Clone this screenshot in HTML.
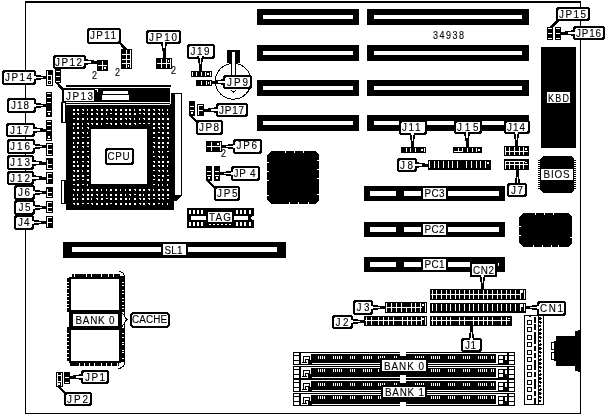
<!DOCTYPE html>
<html><head><meta charset="utf-8"><style>
html,body{margin:0;padding:0;background:#fff;width:608px;height:415px;overflow:hidden}
svg{display:block;filter:grayscale(1)}
text{font-family:"Liberation Sans",sans-serif;stroke:#000;stroke-width:0.12px}
</style></head><body>
<svg width="608" height="415" viewBox="0 0 608 415" shape-rendering="crispEdges">
<rect x="0" y="0" width="608" height="415" fill="#fff"/>
<rect x="25" y="1" width="556" height="2" fill="#000"/>
<rect x="25" y="1" width="1" height="413" fill="#000"/>
<rect x="580" y="1" width="1" height="413" fill="#000"/>
<rect x="25" y="413" width="556" height="1" fill="#000"/>
<rect x="257" y="9" width="102" height="16" fill="#000"/>
<rect x="263" y="15" width="90" height="4" fill="#fff"/>
<rect x="367" y="9" width="162" height="16" fill="#000"/>
<rect x="374" y="15" width="148" height="4" fill="#fff"/>
<rect x="257" y="45" width="102" height="16" fill="#000"/>
<rect x="263" y="51" width="90" height="4" fill="#fff"/>
<rect x="367" y="45" width="162" height="16" fill="#000"/>
<rect x="374" y="51" width="148" height="4" fill="#fff"/>
<rect x="257" y="80" width="102" height="16" fill="#000"/>
<rect x="263" y="86" width="90" height="4" fill="#fff"/>
<rect x="367" y="80" width="162" height="16" fill="#000"/>
<rect x="374" y="86" width="148" height="4" fill="#fff"/>
<rect x="257" y="115" width="102" height="16" fill="#000"/>
<rect x="263" y="121" width="90" height="4" fill="#fff"/>
<rect x="367" y="115" width="162" height="16" fill="#000"/>
<rect x="374" y="121" width="148" height="4" fill="#fff"/>
<text transform="translate(433,39) scale(0.9,1)" font-size="10" fill="#000" text-anchor="start" textLength="34.44" lengthAdjust="spacing">34938</text>
<rect x="364" y="186" width="141" height="15" fill="#000"/>
<rect x="370" y="191" width="26" height="5" fill="#fff"/>
<rect x="404" y="191" width="17" height="5" fill="#fff"/>
<rect x="448" y="191" width="51" height="5" fill="#fff"/>
<rect x="423" y="188" width="23" height="11" fill="#fff"/>
<text transform="translate(424.5,197) scale(0.9,1)" font-size="11" fill="#000" text-anchor="start" textLength="22.22" lengthAdjust="spacing">PC3</text>
<rect x="364" y="222" width="141" height="15" fill="#000"/>
<rect x="370" y="227" width="26" height="5" fill="#fff"/>
<rect x="404" y="227" width="17" height="5" fill="#fff"/>
<rect x="448" y="227" width="51" height="5" fill="#fff"/>
<rect x="423" y="224" width="23" height="11" fill="#fff"/>
<text transform="translate(424.5,233) scale(0.9,1)" font-size="11" fill="#000" text-anchor="start" textLength="22.22" lengthAdjust="spacing">PC2</text>
<rect x="364" y="257" width="141" height="15" fill="#000"/>
<rect x="370" y="262" width="26" height="5" fill="#fff"/>
<rect x="404" y="262" width="17" height="5" fill="#fff"/>
<rect x="448" y="262" width="22" height="5" fill="#fff"/>
<rect x="423" y="259" width="23" height="11" fill="#fff"/>
<text transform="translate(424.5,268) scale(0.9,1)" font-size="11" fill="#000" text-anchor="start" textLength="22.22" lengthAdjust="spacing">PC1</text>
<rect x="63" y="242" width="223" height="16" fill="#000"/>
<rect x="72" y="247" width="89" height="5" fill="#fff"/>
<rect x="188" y="247" width="89" height="5" fill="#fff"/>
<rect x="163" y="244" width="23" height="11" fill="#fff"/>
<text transform="translate(164.5,254) scale(0.9,1)" font-size="11" fill="#000" text-anchor="start" textLength="20.00" lengthAdjust="spacing">SL1</text>
<rect x="541" y="47" width="35" height="101" fill="#000"/>
<rect x="547" y="92" width="23" height="11" fill="#fff"/>
<text transform="translate(548,102) scale(0.9,1)" font-size="10" fill="#000" text-anchor="start" textLength="23.33" lengthAdjust="spacing">KBD</text>
<rect x="66" y="85" width="105" height="2" fill="#000"/>
<rect x="62" y="88" width="108" height="14" fill="#000"/>
<rect x="103" y="91" width="25" height="3" fill="#fff"/>
<rect x="102" y="95" width="27" height="5" fill="#fff"/>
<rect x="96" y="102" width="74" height="1" fill="#fff"/>
<rect x="62" y="103" width="108" height="1" fill="#000"/>
<rect x="66" y="104" width="108" height="106" fill="#000"/>
<rect x="66" y="104" width="104" height="1" fill="#fff"/>
<rect x="61" y="102" width="5" height="21" fill="#000"/>
<rect x="63" y="103" width="2" height="19" fill="#fff"/>
<rect x="61" y="180" width="5" height="24" fill="#000"/>
<rect x="62" y="181" width="2" height="22" fill="#fff"/>
<rect x="171" y="93" width="11" height="103" fill="#000"/>
<rect x="175" y="94" width="6" height="101" fill="#fff"/>
<polygon points="171,196 182,196 176,201 174,201" fill="#000"/>
<rect x="91" y="129" width="56" height="55" fill="#fff"/>
<rect x="73" y="109" width="2" height="2" fill="#fff"/>
<rect x="73" y="113" width="2" height="2" fill="#fff"/>
<rect x="73" y="118" width="2" height="1" fill="#fff"/>
<rect x="73" y="123" width="2" height="2" fill="#fff"/>
<rect x="73" y="127" width="1" height="2" fill="#fff"/>
<rect x="73" y="132" width="2" height="2" fill="#fff"/>
<rect x="73" y="137" width="2" height="2" fill="#fff"/>
<rect x="73" y="142" width="1" height="2" fill="#fff"/>
<rect x="73" y="146" width="2" height="2" fill="#fff"/>
<rect x="73" y="151" width="2" height="2" fill="#fff"/>
<rect x="73" y="156" width="2" height="2" fill="#fff"/>
<rect x="73" y="161" width="2" height="2" fill="#fff"/>
<rect x="73" y="165" width="2" height="2" fill="#fff"/>
<rect x="73" y="170" width="2" height="1" fill="#fff"/>
<rect x="74" y="171" width="1" height="1" fill="#fff"/>
<rect x="73" y="175" width="2" height="2" fill="#fff"/>
<rect x="73" y="179" width="2" height="2" fill="#fff"/>
<rect x="73" y="184" width="2" height="1" fill="#fff"/>
<rect x="73" y="189" width="2" height="1" fill="#fff"/>
<rect x="74" y="190" width="1" height="1" fill="#fff"/>
<rect x="73" y="194" width="1" height="2" fill="#fff"/>
<rect x="73" y="198" width="2" height="2" fill="#fff"/>
<rect x="73" y="203" width="2" height="1" fill="#fff"/>
<rect x="74" y="204" width="1" height="1" fill="#fff"/>
<rect x="77" y="109" width="2" height="2" fill="#fff"/>
<rect x="77" y="113" width="2" height="1" fill="#fff"/>
<rect x="78" y="114" width="1" height="1" fill="#fff"/>
<rect x="77" y="118" width="2" height="2" fill="#fff"/>
<rect x="77" y="123" width="2" height="2" fill="#fff"/>
<rect x="77" y="127" width="2" height="2" fill="#fff"/>
<rect x="77" y="132" width="2" height="2" fill="#fff"/>
<rect x="77" y="137" width="2" height="1" fill="#fff"/>
<rect x="78" y="138" width="1" height="1" fill="#fff"/>
<rect x="77" y="142" width="2" height="2" fill="#fff"/>
<rect x="77" y="146" width="1" height="2" fill="#fff"/>
<rect x="77" y="151" width="2" height="1" fill="#fff"/>
<rect x="77" y="156" width="2" height="2" fill="#fff"/>
<rect x="77" y="161" width="1" height="2" fill="#fff"/>
<rect x="77" y="165" width="2" height="2" fill="#fff"/>
<rect x="77" y="170" width="2" height="2" fill="#fff"/>
<rect x="77" y="175" width="2" height="2" fill="#fff"/>
<rect x="77" y="179" width="2" height="1" fill="#fff"/>
<rect x="77" y="184" width="2" height="2" fill="#fff"/>
<rect x="77" y="189" width="2" height="2" fill="#fff"/>
<rect x="77" y="194" width="1" height="2" fill="#fff"/>
<rect x="77" y="198" width="1" height="2" fill="#fff"/>
<rect x="77" y="203" width="2" height="2" fill="#fff"/>
<rect x="82" y="109" width="2" height="1" fill="#fff"/>
<rect x="83" y="110" width="1" height="1" fill="#fff"/>
<rect x="82" y="113" width="2" height="1" fill="#fff"/>
<rect x="82" y="118" width="2" height="2" fill="#fff"/>
<rect x="82" y="123" width="1" height="2" fill="#fff"/>
<rect x="82" y="127" width="1" height="2" fill="#fff"/>
<rect x="82" y="132" width="2" height="1" fill="#fff"/>
<rect x="83" y="133" width="1" height="1" fill="#fff"/>
<rect x="82" y="137" width="2" height="1" fill="#fff"/>
<rect x="82" y="142" width="2" height="2" fill="#fff"/>
<rect x="82" y="146" width="2" height="1" fill="#fff"/>
<rect x="83" y="147" width="1" height="1" fill="#fff"/>
<rect x="82" y="151" width="2" height="2" fill="#fff"/>
<rect x="82" y="156" width="2" height="2" fill="#fff"/>
<rect x="82" y="161" width="2" height="1" fill="#fff"/>
<rect x="82" y="165" width="2" height="2" fill="#fff"/>
<rect x="82" y="170" width="1" height="2" fill="#fff"/>
<rect x="82" y="175" width="2" height="2" fill="#fff"/>
<rect x="82" y="179" width="2" height="1" fill="#fff"/>
<rect x="82" y="184" width="2" height="1" fill="#fff"/>
<rect x="82" y="189" width="1" height="2" fill="#fff"/>
<rect x="82" y="194" width="2" height="1" fill="#fff"/>
<rect x="83" y="195" width="1" height="1" fill="#fff"/>
<rect x="82" y="198" width="2" height="2" fill="#fff"/>
<rect x="82" y="203" width="2" height="1" fill="#fff"/>
<rect x="87" y="109" width="1" height="2" fill="#fff"/>
<rect x="87" y="113" width="1" height="2" fill="#fff"/>
<rect x="87" y="118" width="1" height="2" fill="#fff"/>
<rect x="87" y="123" width="2" height="1" fill="#fff"/>
<rect x="88" y="124" width="1" height="1" fill="#fff"/>
<rect x="87" y="127" width="2" height="1" fill="#fff"/>
<rect x="88" y="128" width="1" height="1" fill="#fff"/>
<rect x="87" y="132" width="1" height="2" fill="#fff"/>
<rect x="87" y="137" width="2" height="1" fill="#fff"/>
<rect x="87" y="142" width="2" height="2" fill="#fff"/>
<rect x="87" y="146" width="2" height="1" fill="#fff"/>
<rect x="87" y="151" width="2" height="1" fill="#fff"/>
<rect x="87" y="156" width="2" height="1" fill="#fff"/>
<rect x="88" y="157" width="1" height="1" fill="#fff"/>
<rect x="87" y="161" width="2" height="1" fill="#fff"/>
<rect x="88" y="162" width="1" height="1" fill="#fff"/>
<rect x="87" y="165" width="2" height="2" fill="#fff"/>
<rect x="87" y="170" width="2" height="2" fill="#fff"/>
<rect x="87" y="175" width="2" height="1" fill="#fff"/>
<rect x="87" y="179" width="2" height="2" fill="#fff"/>
<rect x="87" y="184" width="1" height="2" fill="#fff"/>
<rect x="87" y="189" width="2" height="2" fill="#fff"/>
<rect x="87" y="194" width="2" height="2" fill="#fff"/>
<rect x="87" y="198" width="2" height="2" fill="#fff"/>
<rect x="87" y="203" width="2" height="1" fill="#fff"/>
<rect x="91" y="109" width="2" height="2" fill="#fff"/>
<rect x="91" y="113" width="2" height="2" fill="#fff"/>
<rect x="91" y="118" width="2" height="2" fill="#fff"/>
<rect x="91" y="123" width="2" height="1" fill="#fff"/>
<rect x="92" y="124" width="1" height="1" fill="#fff"/>
<rect x="91" y="189" width="2" height="2" fill="#fff"/>
<rect x="91" y="194" width="2" height="2" fill="#fff"/>
<rect x="91" y="198" width="1" height="2" fill="#fff"/>
<rect x="91" y="203" width="2" height="1" fill="#fff"/>
<rect x="92" y="204" width="1" height="1" fill="#fff"/>
<rect x="96" y="109" width="2" height="1" fill="#fff"/>
<rect x="97" y="110" width="1" height="1" fill="#fff"/>
<rect x="96" y="113" width="2" height="1" fill="#fff"/>
<rect x="97" y="114" width="1" height="1" fill="#fff"/>
<rect x="96" y="118" width="2" height="2" fill="#fff"/>
<rect x="96" y="123" width="2" height="2" fill="#fff"/>
<rect x="96" y="189" width="2" height="2" fill="#fff"/>
<rect x="96" y="194" width="2" height="1" fill="#fff"/>
<rect x="97" y="195" width="1" height="1" fill="#fff"/>
<rect x="96" y="198" width="2" height="1" fill="#fff"/>
<rect x="97" y="199" width="1" height="1" fill="#fff"/>
<rect x="96" y="203" width="2" height="2" fill="#fff"/>
<rect x="101" y="109" width="2" height="2" fill="#fff"/>
<rect x="101" y="113" width="2" height="2" fill="#fff"/>
<rect x="101" y="118" width="2" height="2" fill="#fff"/>
<rect x="101" y="123" width="1" height="2" fill="#fff"/>
<rect x="101" y="189" width="1" height="2" fill="#fff"/>
<rect x="101" y="194" width="2" height="2" fill="#fff"/>
<rect x="101" y="198" width="2" height="2" fill="#fff"/>
<rect x="101" y="203" width="2" height="2" fill="#fff"/>
<rect x="106" y="109" width="2" height="2" fill="#fff"/>
<rect x="106" y="113" width="1" height="2" fill="#fff"/>
<rect x="106" y="118" width="2" height="1" fill="#fff"/>
<rect x="107" y="119" width="1" height="1" fill="#fff"/>
<rect x="106" y="123" width="2" height="1" fill="#fff"/>
<rect x="106" y="189" width="1" height="2" fill="#fff"/>
<rect x="106" y="194" width="1" height="2" fill="#fff"/>
<rect x="106" y="198" width="2" height="1" fill="#fff"/>
<rect x="106" y="203" width="2" height="2" fill="#fff"/>
<rect x="110" y="109" width="2" height="1" fill="#fff"/>
<rect x="111" y="110" width="1" height="1" fill="#fff"/>
<rect x="110" y="113" width="2" height="1" fill="#fff"/>
<rect x="110" y="118" width="2" height="1" fill="#fff"/>
<rect x="111" y="119" width="1" height="1" fill="#fff"/>
<rect x="110" y="123" width="2" height="1" fill="#fff"/>
<rect x="111" y="124" width="1" height="1" fill="#fff"/>
<rect x="110" y="189" width="2" height="2" fill="#fff"/>
<rect x="110" y="194" width="2" height="2" fill="#fff"/>
<rect x="110" y="198" width="2" height="2" fill="#fff"/>
<rect x="110" y="203" width="2" height="1" fill="#fff"/>
<rect x="115" y="109" width="2" height="2" fill="#fff"/>
<rect x="115" y="113" width="2" height="2" fill="#fff"/>
<rect x="115" y="118" width="2" height="2" fill="#fff"/>
<rect x="115" y="123" width="2" height="2" fill="#fff"/>
<rect x="115" y="189" width="2" height="2" fill="#fff"/>
<rect x="115" y="194" width="2" height="2" fill="#fff"/>
<rect x="115" y="198" width="2" height="2" fill="#fff"/>
<rect x="115" y="203" width="2" height="2" fill="#fff"/>
<rect x="120" y="109" width="2" height="2" fill="#fff"/>
<rect x="120" y="113" width="2" height="2" fill="#fff"/>
<rect x="120" y="118" width="2" height="2" fill="#fff"/>
<rect x="120" y="123" width="2" height="1" fill="#fff"/>
<rect x="121" y="124" width="1" height="1" fill="#fff"/>
<rect x="120" y="189" width="1" height="2" fill="#fff"/>
<rect x="120" y="194" width="2" height="2" fill="#fff"/>
<rect x="120" y="198" width="2" height="2" fill="#fff"/>
<rect x="120" y="203" width="2" height="2" fill="#fff"/>
<rect x="125" y="109" width="2" height="2" fill="#fff"/>
<rect x="125" y="113" width="2" height="2" fill="#fff"/>
<rect x="125" y="118" width="2" height="1" fill="#fff"/>
<rect x="126" y="119" width="1" height="1" fill="#fff"/>
<rect x="125" y="123" width="2" height="1" fill="#fff"/>
<rect x="126" y="124" width="1" height="1" fill="#fff"/>
<rect x="125" y="189" width="1" height="2" fill="#fff"/>
<rect x="125" y="194" width="1" height="2" fill="#fff"/>
<rect x="125" y="198" width="2" height="2" fill="#fff"/>
<rect x="125" y="203" width="2" height="2" fill="#fff"/>
<rect x="129" y="109" width="2" height="2" fill="#fff"/>
<rect x="129" y="113" width="2" height="2" fill="#fff"/>
<rect x="129" y="118" width="2" height="1" fill="#fff"/>
<rect x="130" y="119" width="1" height="1" fill="#fff"/>
<rect x="129" y="123" width="2" height="2" fill="#fff"/>
<rect x="129" y="189" width="2" height="2" fill="#fff"/>
<rect x="129" y="194" width="2" height="1" fill="#fff"/>
<rect x="130" y="195" width="1" height="1" fill="#fff"/>
<rect x="129" y="198" width="1" height="2" fill="#fff"/>
<rect x="129" y="203" width="2" height="2" fill="#fff"/>
<rect x="134" y="109" width="1" height="2" fill="#fff"/>
<rect x="134" y="113" width="2" height="2" fill="#fff"/>
<rect x="134" y="118" width="1" height="2" fill="#fff"/>
<rect x="134" y="123" width="2" height="1" fill="#fff"/>
<rect x="135" y="124" width="1" height="1" fill="#fff"/>
<rect x="134" y="189" width="2" height="1" fill="#fff"/>
<rect x="135" y="190" width="1" height="1" fill="#fff"/>
<rect x="134" y="194" width="2" height="1" fill="#fff"/>
<rect x="134" y="198" width="2" height="2" fill="#fff"/>
<rect x="134" y="203" width="2" height="2" fill="#fff"/>
<rect x="139" y="109" width="2" height="2" fill="#fff"/>
<rect x="139" y="113" width="2" height="1" fill="#fff"/>
<rect x="139" y="118" width="1" height="2" fill="#fff"/>
<rect x="139" y="123" width="2" height="1" fill="#fff"/>
<rect x="139" y="189" width="2" height="2" fill="#fff"/>
<rect x="139" y="194" width="2" height="2" fill="#fff"/>
<rect x="139" y="198" width="2" height="1" fill="#fff"/>
<rect x="140" y="199" width="1" height="1" fill="#fff"/>
<rect x="139" y="203" width="2" height="1" fill="#fff"/>
<rect x="140" y="204" width="1" height="1" fill="#fff"/>
<rect x="143" y="109" width="2" height="1" fill="#fff"/>
<rect x="144" y="110" width="1" height="1" fill="#fff"/>
<rect x="143" y="113" width="2" height="1" fill="#fff"/>
<rect x="144" y="114" width="1" height="1" fill="#fff"/>
<rect x="143" y="118" width="2" height="1" fill="#fff"/>
<rect x="144" y="119" width="1" height="1" fill="#fff"/>
<rect x="143" y="123" width="2" height="1" fill="#fff"/>
<rect x="143" y="189" width="2" height="2" fill="#fff"/>
<rect x="143" y="194" width="1" height="2" fill="#fff"/>
<rect x="143" y="198" width="2" height="2" fill="#fff"/>
<rect x="143" y="203" width="2" height="2" fill="#fff"/>
<rect x="148" y="109" width="2" height="2" fill="#fff"/>
<rect x="148" y="113" width="2" height="2" fill="#fff"/>
<rect x="148" y="118" width="2" height="2" fill="#fff"/>
<rect x="148" y="123" width="2" height="1" fill="#fff"/>
<rect x="148" y="189" width="2" height="1" fill="#fff"/>
<rect x="149" y="190" width="1" height="1" fill="#fff"/>
<rect x="148" y="194" width="2" height="2" fill="#fff"/>
<rect x="148" y="198" width="2" height="1" fill="#fff"/>
<rect x="149" y="199" width="1" height="1" fill="#fff"/>
<rect x="148" y="203" width="2" height="1" fill="#fff"/>
<rect x="149" y="204" width="1" height="1" fill="#fff"/>
<rect x="153" y="109" width="2" height="1" fill="#fff"/>
<rect x="154" y="110" width="1" height="1" fill="#fff"/>
<rect x="153" y="113" width="2" height="2" fill="#fff"/>
<rect x="153" y="118" width="2" height="2" fill="#fff"/>
<rect x="153" y="123" width="2" height="2" fill="#fff"/>
<rect x="153" y="127" width="2" height="2" fill="#fff"/>
<rect x="153" y="132" width="2" height="2" fill="#fff"/>
<rect x="153" y="137" width="2" height="1" fill="#fff"/>
<rect x="153" y="142" width="2" height="1" fill="#fff"/>
<rect x="154" y="143" width="1" height="1" fill="#fff"/>
<rect x="153" y="146" width="2" height="1" fill="#fff"/>
<rect x="154" y="147" width="1" height="1" fill="#fff"/>
<rect x="153" y="151" width="1" height="2" fill="#fff"/>
<rect x="153" y="156" width="2" height="1" fill="#fff"/>
<rect x="153" y="161" width="2" height="1" fill="#fff"/>
<rect x="154" y="162" width="1" height="1" fill="#fff"/>
<rect x="153" y="165" width="2" height="2" fill="#fff"/>
<rect x="153" y="170" width="2" height="1" fill="#fff"/>
<rect x="153" y="175" width="2" height="1" fill="#fff"/>
<rect x="154" y="176" width="1" height="1" fill="#fff"/>
<rect x="153" y="179" width="2" height="1" fill="#fff"/>
<rect x="153" y="184" width="2" height="1" fill="#fff"/>
<rect x="153" y="189" width="1" height="2" fill="#fff"/>
<rect x="153" y="194" width="2" height="2" fill="#fff"/>
<rect x="153" y="198" width="2" height="1" fill="#fff"/>
<rect x="153" y="203" width="2" height="2" fill="#fff"/>
<rect x="158" y="109" width="2" height="1" fill="#fff"/>
<rect x="159" y="110" width="1" height="1" fill="#fff"/>
<rect x="158" y="113" width="2" height="1" fill="#fff"/>
<rect x="159" y="114" width="1" height="1" fill="#fff"/>
<rect x="158" y="118" width="2" height="2" fill="#fff"/>
<rect x="158" y="123" width="2" height="2" fill="#fff"/>
<rect x="158" y="127" width="2" height="1" fill="#fff"/>
<rect x="159" y="128" width="1" height="1" fill="#fff"/>
<rect x="158" y="132" width="2" height="1" fill="#fff"/>
<rect x="158" y="137" width="2" height="2" fill="#fff"/>
<rect x="158" y="142" width="2" height="2" fill="#fff"/>
<rect x="158" y="146" width="2" height="2" fill="#fff"/>
<rect x="158" y="151" width="2" height="1" fill="#fff"/>
<rect x="159" y="152" width="1" height="1" fill="#fff"/>
<rect x="158" y="156" width="2" height="1" fill="#fff"/>
<rect x="159" y="157" width="1" height="1" fill="#fff"/>
<rect x="158" y="161" width="2" height="2" fill="#fff"/>
<rect x="158" y="165" width="2" height="1" fill="#fff"/>
<rect x="159" y="166" width="1" height="1" fill="#fff"/>
<rect x="158" y="170" width="2" height="1" fill="#fff"/>
<rect x="159" y="171" width="1" height="1" fill="#fff"/>
<rect x="158" y="175" width="2" height="1" fill="#fff"/>
<rect x="158" y="179" width="2" height="2" fill="#fff"/>
<rect x="158" y="184" width="1" height="2" fill="#fff"/>
<rect x="158" y="189" width="2" height="2" fill="#fff"/>
<rect x="158" y="194" width="2" height="2" fill="#fff"/>
<rect x="158" y="198" width="2" height="1" fill="#fff"/>
<rect x="159" y="199" width="1" height="1" fill="#fff"/>
<rect x="158" y="203" width="2" height="1" fill="#fff"/>
<rect x="162" y="109" width="1" height="2" fill="#fff"/>
<rect x="162" y="113" width="2" height="1" fill="#fff"/>
<rect x="163" y="114" width="1" height="1" fill="#fff"/>
<rect x="162" y="118" width="2" height="2" fill="#fff"/>
<rect x="162" y="123" width="2" height="1" fill="#fff"/>
<rect x="163" y="124" width="1" height="1" fill="#fff"/>
<rect x="162" y="127" width="2" height="1" fill="#fff"/>
<rect x="163" y="128" width="1" height="1" fill="#fff"/>
<rect x="162" y="132" width="2" height="2" fill="#fff"/>
<rect x="162" y="137" width="2" height="2" fill="#fff"/>
<rect x="162" y="142" width="2" height="2" fill="#fff"/>
<rect x="162" y="146" width="2" height="2" fill="#fff"/>
<rect x="162" y="151" width="1" height="2" fill="#fff"/>
<rect x="162" y="156" width="2" height="2" fill="#fff"/>
<rect x="162" y="161" width="2" height="2" fill="#fff"/>
<rect x="162" y="165" width="2" height="2" fill="#fff"/>
<rect x="162" y="170" width="2" height="1" fill="#fff"/>
<rect x="163" y="171" width="1" height="1" fill="#fff"/>
<rect x="162" y="175" width="2" height="2" fill="#fff"/>
<rect x="162" y="179" width="1" height="2" fill="#fff"/>
<rect x="162" y="184" width="1" height="2" fill="#fff"/>
<rect x="162" y="189" width="2" height="1" fill="#fff"/>
<rect x="163" y="190" width="1" height="1" fill="#fff"/>
<rect x="162" y="194" width="2" height="2" fill="#fff"/>
<rect x="162" y="198" width="2" height="1" fill="#fff"/>
<rect x="163" y="199" width="1" height="1" fill="#fff"/>
<rect x="162" y="203" width="1" height="2" fill="#fff"/>
<rect x="167" y="109" width="1" height="2" fill="#fff"/>
<rect x="167" y="113" width="1" height="2" fill="#fff"/>
<rect x="167" y="118" width="2" height="2" fill="#fff"/>
<rect x="167" y="123" width="2" height="2" fill="#fff"/>
<rect x="167" y="127" width="2" height="2" fill="#fff"/>
<rect x="167" y="132" width="2" height="2" fill="#fff"/>
<rect x="167" y="137" width="2" height="1" fill="#fff"/>
<rect x="168" y="138" width="1" height="1" fill="#fff"/>
<rect x="167" y="142" width="2" height="2" fill="#fff"/>
<rect x="167" y="146" width="1" height="2" fill="#fff"/>
<rect x="167" y="151" width="2" height="1" fill="#fff"/>
<rect x="167" y="156" width="1" height="2" fill="#fff"/>
<rect x="167" y="161" width="2" height="2" fill="#fff"/>
<rect x="167" y="165" width="1" height="2" fill="#fff"/>
<rect x="167" y="170" width="1" height="2" fill="#fff"/>
<rect x="167" y="175" width="2" height="1" fill="#fff"/>
<rect x="167" y="179" width="2" height="2" fill="#fff"/>
<rect x="167" y="184" width="1" height="2" fill="#fff"/>
<rect x="167" y="189" width="2" height="2" fill="#fff"/>
<rect x="167" y="194" width="2" height="2" fill="#fff"/>
<rect x="167" y="198" width="2" height="1" fill="#fff"/>
<rect x="167" y="203" width="1" height="2" fill="#fff"/>
<rect x="105" y="148" width="29" height="17" rx="3" ry="3" fill="#000"/>
<rect x="107" y="150" width="25" height="13" rx="2" ry="2" fill="#fff"/>
<text transform="translate(107.6,159.8) scale(0.9,1)" font-size="11" fill="#000" text-anchor="start" textLength="24.44" lengthAdjust="spacing">CPU</text>
<rect x="64" y="90" width="30" height="11" fill="#fff"/>
<text transform="translate(66,99.5) scale(0.9,1)" font-size="11" fill="#000" text-anchor="start" textLength="30.00" lengthAdjust="spacing">JP13</text>
<rect x="95" y="89" width="3" height="1" fill="#fff"/>
<rect x="97" y="89" width="1" height="3" fill="#fff"/>
<polygon points="55,82 58,82 64,89 62,91" fill="#000"/>
<polygon points="271,151 315,151 319,155 319,200 315,204 271,204 267,200 267,155" fill="#000"/>
<rect x="285" y="151" width="1" height="2" fill="#fff"/>
<rect x="294" y="151" width="1" height="2" fill="#fff"/>
<rect x="303" y="151" width="1" height="2" fill="#fff"/>
<rect x="289" y="202" width="1" height="2" fill="#fff"/>
<rect x="298" y="202" width="1" height="2" fill="#fff"/>
<rect x="308" y="202" width="1" height="2" fill="#fff"/>
<rect x="267" y="162" width="2" height="1" fill="#fff"/>
<rect x="267" y="171" width="2" height="1" fill="#fff"/>
<rect x="267" y="180" width="2" height="1" fill="#fff"/>
<rect x="267" y="195" width="2" height="1" fill="#fff"/>
<rect x="317" y="160" width="2" height="1" fill="#fff"/>
<rect x="317" y="169" width="2" height="1" fill="#fff"/>
<rect x="317" y="178" width="2" height="1" fill="#fff"/>
<rect x="317" y="194" width="2" height="1" fill="#fff"/>
<polygon points="523,213 568,213 572,217 572,243 568,247 523,247 519,243 519,217" fill="#000"/>
<rect x="535" y="213" width="1" height="2" fill="#fff"/>
<rect x="544" y="213" width="1" height="2" fill="#fff"/>
<rect x="553" y="213" width="1" height="2" fill="#fff"/>
<rect x="533" y="245" width="1" height="2" fill="#fff"/>
<rect x="542" y="245" width="1" height="2" fill="#fff"/>
<rect x="551" y="245" width="1" height="2" fill="#fff"/>
<rect x="558" y="245" width="1" height="2" fill="#fff"/>
<rect x="519" y="226" width="2" height="1" fill="#fff"/>
<rect x="519" y="235" width="2" height="1" fill="#fff"/>
<rect x="570" y="237" width="2" height="1" fill="#fff"/>
<polygon points="543,156 571,156 574,159 574,190 571,193 543,193 540,190 540,159" fill="#000"/>
<rect x="538" y="160" width="3" height="1" fill="#000"/>
<rect x="573" y="160" width="3" height="1" fill="#000"/>
<rect x="538" y="162" width="3" height="1" fill="#000"/>
<rect x="573" y="162" width="3" height="1" fill="#000"/>
<rect x="538" y="164" width="3" height="1" fill="#000"/>
<rect x="573" y="164" width="3" height="1" fill="#000"/>
<rect x="538" y="166" width="3" height="1" fill="#000"/>
<rect x="573" y="166" width="3" height="1" fill="#000"/>
<rect x="538" y="168" width="3" height="1" fill="#000"/>
<rect x="573" y="168" width="3" height="1" fill="#000"/>
<rect x="538" y="170" width="3" height="1" fill="#000"/>
<rect x="573" y="170" width="3" height="1" fill="#000"/>
<rect x="538" y="172" width="3" height="1" fill="#000"/>
<rect x="573" y="172" width="3" height="1" fill="#000"/>
<rect x="538" y="174" width="3" height="1" fill="#000"/>
<rect x="573" y="174" width="3" height="1" fill="#000"/>
<rect x="538" y="176" width="3" height="1" fill="#000"/>
<rect x="573" y="176" width="3" height="1" fill="#000"/>
<rect x="538" y="178" width="3" height="1" fill="#000"/>
<rect x="573" y="178" width="3" height="1" fill="#000"/>
<rect x="538" y="180" width="3" height="1" fill="#000"/>
<rect x="573" y="180" width="3" height="1" fill="#000"/>
<rect x="538" y="182" width="3" height="1" fill="#000"/>
<rect x="573" y="182" width="3" height="1" fill="#000"/>
<rect x="538" y="184" width="3" height="1" fill="#000"/>
<rect x="573" y="184" width="3" height="1" fill="#000"/>
<rect x="538" y="186" width="3" height="1" fill="#000"/>
<rect x="573" y="186" width="3" height="1" fill="#000"/>
<rect x="538" y="188" width="3" height="1" fill="#000"/>
<rect x="573" y="188" width="3" height="1" fill="#000"/>
<rect x="541" y="169" width="32" height="11" fill="#fff"/>
<text transform="translate(543.5,178) scale(0.9,1)" font-size="11" fill="#000" text-anchor="start" textLength="28.89" lengthAdjust="spacing">BIOS</text>
<rect x="187" y="208" width="67" height="20" fill="#000"/>
<rect x="189" y="210" width="2" height="4" fill="#fff"/>
<rect x="189" y="222" width="2" height="4" fill="#fff"/>
<rect x="193" y="210" width="2" height="4" fill="#fff"/>
<rect x="193" y="222" width="2" height="4" fill="#fff"/>
<rect x="197" y="210" width="2" height="4" fill="#fff"/>
<rect x="197" y="222" width="2" height="4" fill="#fff"/>
<rect x="201" y="210" width="2" height="4" fill="#fff"/>
<rect x="201" y="222" width="2" height="4" fill="#fff"/>
<rect x="236" y="210" width="2" height="4" fill="#fff"/>
<rect x="236" y="222" width="2" height="4" fill="#fff"/>
<rect x="240" y="210" width="2" height="4" fill="#fff"/>
<rect x="240" y="222" width="2" height="4" fill="#fff"/>
<rect x="244" y="210" width="2" height="4" fill="#fff"/>
<rect x="244" y="222" width="2" height="4" fill="#fff"/>
<rect x="249" y="210" width="2" height="4" fill="#fff"/>
<rect x="249" y="222" width="2" height="4" fill="#fff"/>
<rect x="191" y="216" width="15" height="4" fill="#fff"/>
<rect x="234" y="216" width="14" height="4" fill="#fff"/>
<rect x="208" y="212" width="24" height="10" fill="#fff"/>
<text transform="translate(209,221) scale(0.9,1)" font-size="11" fill="#000" text-anchor="start" textLength="24.44" lengthAdjust="spacing">TAG</text>
<rect x="209" y="224" width="2" height="1" fill="#fff"/>
<rect x="213" y="224" width="2" height="1" fill="#fff"/>
<rect x="217" y="224" width="2" height="1" fill="#fff"/>
<rect x="221" y="224" width="2" height="1" fill="#fff"/>
<rect x="225" y="224" width="2" height="1" fill="#fff"/>
<rect x="229" y="224" width="2" height="1" fill="#fff"/>
<rect x="252" y="216" width="2" height="4" fill="#fff"/>
<rect x="251" y="217" width="1" height="2" fill="#fff"/>
<rect x="2" y="70" width="34" height="15" rx="3" ry="3" fill="#000"/>
<rect x="4" y="72" width="30" height="11" rx="2" ry="2" fill="#fff"/>
<text transform="translate(5,81.0) scale(0.9,1)" font-size="11" fill="#000" text-anchor="start" textLength="30.00" lengthAdjust="spacing">JP14</text>
<polygon points="34,74.0 38,75.0 44,76.0 46,76.0 46,79.0 44,79.0 38,80.0 34,81.0" fill="#000"/>
<polygon points="34,76.3 43,77.2 43,77.8 34,78.7" fill="#fff"/>
<rect x="46" y="70" width="7" height="16" fill="#000"/>
<rect x="47" y="71" width="1" height="14" fill="#fff"/>
<rect x="48" y="75" width="4" height="1" fill="#fff"/>
<rect x="51" y="75" width="1" height="10" fill="#fff"/>
<rect x="48" y="80" width="3" height="1" fill="#fff"/>
<rect x="49" y="82" width="1" height="1" fill="#fff"/>
<rect x="48" y="84" width="4" height="1" fill="#fff"/>
<rect x="7" y="98" width="29" height="15" rx="3" ry="3" fill="#000"/>
<rect x="9" y="100" width="25" height="11" rx="2" ry="2" fill="#fff"/>
<text transform="translate(11,109.0) scale(0.9,1)" font-size="11" fill="#000" text-anchor="start" textLength="20.00" lengthAdjust="spacing">J18</text>
<polygon points="34,102.0 38,103.0 44,104.0 46,104.0 46,107.0 44,107.0 38,108.0 34,109.0" fill="#000"/>
<polygon points="34,104.3 43,105.2 43,105.8 34,106.7" fill="#fff"/>
<rect x="46" y="92" width="6" height="25" fill="#000"/>
<rect x="47" y="93" width="4" height="1" fill="#fff"/>
<rect x="47" y="97" width="4" height="1" fill="#fff"/>
<rect x="47" y="102" width="4" height="1" fill="#fff"/>
<rect x="47" y="111" width="4" height="1" fill="#fff"/>
<rect x="48" y="113" width="2" height="2" fill="#fff"/>
<rect x="6" y="123" width="29" height="14" rx="3" ry="3" fill="#000"/>
<rect x="8" y="125" width="25" height="10" rx="2" ry="2" fill="#fff"/>
<text transform="translate(10,133.5) scale(0.9,1)" font-size="11" fill="#000" text-anchor="start" textLength="21.11" lengthAdjust="spacing">J17</text>
<polygon points="33,126.5 37,127.5 43,128.5 46,128.5 46,131.5 43,131.5 37,132.5 33,133.5" fill="#000"/>
<polygon points="33,128.8 42,129.7 42,130.3 33,131.2" fill="#fff"/>
<rect x="46" y="120" width="6" height="21" fill="#000"/>
<rect x="47" y="121" width="4" height="1" fill="#fff"/>
<rect x="47" y="125" width="4" height="1" fill="#fff"/>
<rect x="47" y="130" width="4" height="1" fill="#fff"/>
<rect x="47" y="139" width="4" height="1" fill="#fff"/>
<rect x="48" y="136" width="2" height="2" fill="#fff"/>
<rect x="7" y="139" width="28" height="15" rx="3" ry="3" fill="#000"/>
<rect x="9" y="141" width="24" height="11" rx="2" ry="2" fill="#fff"/>
<text transform="translate(10,150.0) scale(0.9,1)" font-size="11" fill="#000" text-anchor="start" textLength="22.22" lengthAdjust="spacing">J16</text>
<polygon points="33,143.0 37,144.0 43,145.0 46,145.0 46,148.0 43,148.0 37,149.0 33,150.0" fill="#000"/>
<polygon points="33,145.3 42,146.2 42,146.8 33,147.7" fill="#fff"/>
<rect x="46" y="143" width="7" height="13" fill="#000"/>
<rect x="47" y="144" width="1" height="11" fill="#fff"/>
<rect x="47" y="144" width="5" height="1" fill="#fff"/>
<rect x="47" y="149" width="5" height="1" fill="#fff"/>
<rect x="47" y="154" width="5" height="1" fill="#fff"/>
<rect x="7" y="155" width="27" height="15" rx="3" ry="3" fill="#000"/>
<rect x="9" y="157" width="23" height="11" rx="2" ry="2" fill="#fff"/>
<text transform="translate(10,166.0) scale(0.9,1)" font-size="11" fill="#000" text-anchor="start" textLength="22.22" lengthAdjust="spacing">J13</text>
<polygon points="32,159.5 36,160.5 42,161.5 46,161.5 46,164.5 42,164.5 36,165.5 32,166.5" fill="#000"/>
<polygon points="32,161.8 41,162.7 41,163.3 32,164.2" fill="#fff"/>
<rect x="46" y="158" width="7" height="12" fill="#000"/>
<rect x="47" y="160" width="1" height="9" fill="#fff"/>
<rect x="47" y="164" width="5" height="1" fill="#fff"/>
<rect x="47" y="168" width="5" height="1" fill="#fff"/>
<rect x="7" y="171" width="27" height="14" rx="3" ry="3" fill="#000"/>
<rect x="9" y="173" width="23" height="10" rx="2" ry="2" fill="#fff"/>
<text transform="translate(10,181.5) scale(0.9,1)" font-size="11" fill="#000" text-anchor="start" textLength="22.22" lengthAdjust="spacing">J12</text>
<polygon points="32,174.5 36,175.5 42,176.5 46,176.5 46,179.5 42,179.5 36,180.5 32,181.5" fill="#000"/>
<polygon points="32,176.8 41,177.7 41,178.3 32,179.2" fill="#fff"/>
<rect x="46" y="172" width="7" height="12" fill="#000"/>
<rect x="47" y="173" width="1" height="10" fill="#fff"/>
<rect x="47" y="173" width="5" height="1" fill="#fff"/>
<rect x="47" y="178" width="5" height="1" fill="#fff"/>
<rect x="14" y="185" width="21" height="15" rx="3" ry="3" fill="#000"/>
<rect x="16" y="187" width="17" height="11" rx="2" ry="2" fill="#fff"/>
<text transform="translate(18,196.0) scale(0.9,1)" font-size="11" fill="#000" text-anchor="start" textLength="13.33" lengthAdjust="spacing">J6</text>
<polygon points="33,189.0 37,190.0 43,191.0 46,191.0 46,194.0 43,194.0 37,195.0 33,196.0" fill="#000"/>
<polygon points="33,191.3 42,192.2 42,192.8 33,193.7" fill="#fff"/>
<rect x="46" y="187" width="7" height="11" fill="#000"/>
<rect x="47" y="189" width="1" height="8" fill="#fff"/>
<rect x="47" y="192" width="5" height="1" fill="#fff"/>
<rect x="47" y="196" width="5" height="1" fill="#fff"/>
<rect x="14" y="200" width="21" height="15" rx="3" ry="3" fill="#000"/>
<rect x="16" y="202" width="17" height="11" rx="2" ry="2" fill="#fff"/>
<text transform="translate(18.5,211.0) scale(0.9,1)" font-size="11" fill="#000" text-anchor="start" textLength="13.33" lengthAdjust="spacing">J5</text>
<polygon points="33,204.0 37,205.0 43,206.0 46,206.0 46,209.0 43,209.0 37,210.0 33,211.0" fill="#000"/>
<polygon points="33,206.3 42,207.2 42,207.8 33,208.7" fill="#fff"/>
<rect x="46" y="201" width="7" height="12" fill="#000"/>
<rect x="47" y="202" width="1" height="10" fill="#fff"/>
<rect x="47" y="202" width="5" height="1" fill="#fff"/>
<rect x="47" y="207" width="5" height="1" fill="#fff"/>
<rect x="47" y="211" width="5" height="1" fill="#fff"/>
<rect x="14" y="215" width="20" height="15" rx="3" ry="3" fill="#000"/>
<rect x="16" y="217" width="16" height="11" rx="2" ry="2" fill="#fff"/>
<text transform="translate(18,226.0) scale(0.9,1)" font-size="11" fill="#000" text-anchor="start" textLength="12.78" lengthAdjust="spacing">J4</text>
<polygon points="32,219.0 36,220.0 42,221.0 46,221.0 46,224.0 42,224.0 36,225.0 32,226.0" fill="#000"/>
<polygon points="32,221.3 41,222.2 41,222.8 32,223.7" fill="#fff"/>
<rect x="46" y="216" width="7" height="12" fill="#000"/>
<rect x="47" y="217" width="1" height="10" fill="#fff"/>
<rect x="47" y="217" width="5" height="1" fill="#fff"/>
<rect x="47" y="222" width="5" height="1" fill="#fff"/>
<rect x="53" y="55" width="33" height="14" rx="3" ry="3" fill="#000"/>
<rect x="55" y="57" width="29" height="10" rx="2" ry="2" fill="#fff"/>
<text transform="translate(55,65.5) scale(0.9,1)" font-size="11" fill="#000" text-anchor="start" textLength="30.00" lengthAdjust="spacing">JP12</text>
<polygon points="84,58.5 88,59.5 94,60.5 97,60.5 97,63.5 94,63.5 88,64.5 84,65.5" fill="#000"/>
<polygon points="84,60.8 93,61.7 93,62.3 84,63.2" fill="#fff"/>
<rect x="97" y="60" width="11" height="11" fill="#000"/>
<rect x="102" y="61" width="1" height="9" fill="#fff"/>
<rect x="98" y="65" width="9" height="1" fill="#fff"/>
<rect x="104" y="67" width="2" height="2" fill="#fff"/>
<text transform="translate(92,79) scale(0.9,1)" font-size="10" fill="#000" text-anchor="start">2</text>
<rect x="55" y="69" width="6" height="14" fill="#000"/>
<rect x="56" y="71" width="4" height="1" fill="#fff"/>
<rect x="56" y="76" width="4" height="1" fill="#fff"/>
<rect x="56" y="81" width="4" height="1" fill="#fff"/>
<rect x="87" y="28" width="34" height="16" rx="3" ry="3" fill="#000"/>
<rect x="89" y="30" width="30" height="12" rx="2" ry="2" fill="#fff"/>
<text transform="translate(90,38.8) scale(0.9,1)" font-size="11" fill="#000" text-anchor="start" textLength="28.89" lengthAdjust="spacing">JP11</text>
<polygon points="118,42 121,42 127,49 124,50" fill="#000"/>
<rect x="121" y="49" width="11" height="20" fill="#000"/>
<rect x="126" y="50" width="1" height="18" fill="#fff"/>
<rect x="130" y="50" width="1" height="18" fill="#fff"/>
<rect x="122" y="54" width="9" height="1" fill="#fff"/>
<rect x="122" y="59" width="9" height="1" fill="#fff"/>
<rect x="122" y="63" width="9" height="1" fill="#fff"/>
<rect x="128" y="65" width="1" height="2" fill="#fff"/>
<text transform="translate(115,76) scale(0.9,1)" font-size="10" fill="#000" text-anchor="start">2</text>
<rect x="146" y="30" width="35" height="14" rx="3" ry="3" fill="#000"/>
<rect x="148" y="32" width="31" height="10" rx="2" ry="2" fill="#fff"/>
<text transform="translate(149,40.5) scale(0.9,1)" font-size="11" fill="#000" text-anchor="start" textLength="31.11" lengthAdjust="spacing">JP10</text>
<polygon points="160.5,42 161.5,46 162.5,51 162.5,58 165.5,58 165.5,51 166.5,46 167.5,42" fill="#000"/>
<polygon points="162.8,42 163.7,50 164.3,50 165.2,42" fill="#fff"/>
<rect x="156" y="58" width="16" height="11" fill="#000"/>
<rect x="161" y="59" width="1" height="9" fill="#fff"/>
<rect x="166" y="59" width="1" height="9" fill="#fff"/>
<rect x="170" y="59" width="1" height="9" fill="#fff"/>
<rect x="157" y="63" width="13" height="1" fill="#fff"/>
<rect x="168" y="60" width="1" height="2" fill="#fff"/>
<text transform="translate(171,74) scale(0.9,1)" font-size="10" fill="#000" text-anchor="start">2</text>
<rect x="187" y="44" width="28" height="15" rx="3" ry="3" fill="#000"/>
<rect x="189" y="46" width="24" height="11" rx="2" ry="2" fill="#fff"/>
<text transform="translate(190.5,54.6) scale(0.9,1)" font-size="11" fill="#000" text-anchor="start" textLength="21.11" lengthAdjust="spacing">J19</text>
<polygon points="197.0,56 198.0,60 199.0,65 199.0,71 202.0,71 202.0,65 203.0,60 204.0,56" fill="#000"/>
<polygon points="199.3,56 200.2,64 200.8,64 201.7,56" fill="#fff"/>
<rect x="191" y="71" width="21" height="6" fill="#000"/>
<rect x="192" y="72" width="1" height="4" fill="#fff"/>
<rect x="196" y="72" width="1" height="4" fill="#fff"/>
<rect x="201" y="72" width="1" height="4" fill="#fff"/>
<rect x="205" y="72" width="1" height="4" fill="#fff"/>
<rect x="210" y="72" width="1" height="4" fill="#fff"/>
<rect x="207" y="73" width="2" height="2" fill="#fff"/>
<rect x="196" y="80" width="16" height="6" fill="#000"/>
<rect x="201" y="81" width="1" height="4" fill="#fff"/>
<rect x="206" y="81" width="1" height="4" fill="#fff"/>
<rect x="210" y="81" width="1" height="4" fill="#fff"/>
<rect x="208" y="82" width="1" height="2" fill="#fff"/>
<circle cx="233.2" cy="81.3" r="17.9" fill="none" stroke="#000" stroke-width="1"/>
<rect x="227" y="50" width="13" height="13" fill="#000"/>
<rect x="232" y="52" width="3" height="23" fill="#fff"/>
<rect x="231" y="62" width="1" height="13" fill="#000"/>
<rect x="235" y="62" width="1" height="13" fill="#000"/>
<rect x="223" y="75" width="29" height="14" rx="3" ry="3" fill="#000"/>
<rect x="225" y="77" width="25" height="10" rx="2" ry="2" fill="#fff"/>
<text transform="translate(227,85.5) scale(0.9,1)" font-size="11" fill="#000" text-anchor="start" textLength="23.33" lengthAdjust="spacing">JP9</text>
<polygon points="225,78.5 221,79.5 215,80.5 212,80.5 212,83.5 215,83.5 221,84.5 225,85.5" fill="#000"/>
<polygon points="225,80.8 216,81.7 216,82.3 225,83.2" fill="#fff"/>
<polygon points="231,90 236,90 233.5,93" fill="#000"/>
<rect x="232" y="90" width="3" height="1" fill="#fff"/>
<rect x="189" y="101" width="6" height="15" fill="#000"/>
<rect x="190" y="106" width="4" height="1" fill="#fff"/>
<rect x="190" y="110" width="4" height="1" fill="#fff"/>
<rect x="191" y="112" width="2" height="2" fill="#fff"/>
<rect x="197" y="104" width="7" height="12" fill="#000"/>
<rect x="198" y="105" width="1" height="10" fill="#fff"/>
<rect x="198" y="105" width="5" height="1" fill="#fff"/>
<rect x="198" y="110" width="5" height="1" fill="#fff"/>
<rect x="216" y="103" width="32" height="14" rx="3" ry="3" fill="#000"/>
<rect x="218" y="105" width="28" height="10" rx="2" ry="2" fill="#fff"/>
<text transform="translate(219,113.5) scale(0.9,1)" font-size="11" fill="#000" text-anchor="start" textLength="27.78" lengthAdjust="spacing">JP17</text>
<polygon points="218,106.5 214,107.5 208,108.5 204,108.5 204,111.5 208,111.5 214,112.5 218,113.5" fill="#000"/>
<polygon points="218,108.8 209,109.7 209,110.3 218,111.2" fill="#fff"/>
<rect x="196" y="120" width="27" height="15" rx="3" ry="3" fill="#000"/>
<rect x="198" y="122" width="23" height="11" rx="2" ry="2" fill="#fff"/>
<text transform="translate(199,131.0) scale(0.9,1)" font-size="11" fill="#000" text-anchor="start" textLength="22.22" lengthAdjust="spacing">JP8</text>
<polygon points="189,116 192,116 199,122 196,123" fill="#000"/>
<rect x="206" y="141" width="16" height="11" fill="#000"/>
<rect x="211" y="142" width="1" height="9" fill="#fff"/>
<rect x="220" y="142" width="1" height="9" fill="#fff"/>
<rect x="207" y="146" width="13" height="1" fill="#fff"/>
<rect x="217" y="143" width="2" height="2" fill="#fff"/>
<text transform="translate(221,157) scale(0.9,1)" font-size="10" fill="#000" text-anchor="start">2</text>
<rect x="233" y="139" width="29" height="15" rx="3" ry="3" fill="#000"/>
<rect x="235" y="141" width="25" height="11" rx="2" ry="2" fill="#fff"/>
<text transform="translate(236.5,149) scale(0.9,1)" font-size="11" fill="#000" text-anchor="start" textLength="22.78" lengthAdjust="spacing">JP6</text>
<polygon points="235,143.0 231,144.0 225,145.0 222,145.0 222,148.0 225,148.0 231,149.0 235,150.0" fill="#000"/>
<polygon points="235,145.3 226,146.2 226,146.8 235,147.7" fill="#fff"/>
<rect x="206" y="166" width="6" height="15" fill="#000"/>
<rect x="207" y="171" width="4" height="1" fill="#fff"/>
<rect x="207" y="175" width="4" height="1" fill="#fff"/>
<rect x="208" y="177" width="2" height="2" fill="#fff"/>
<rect x="214" y="166" width="6" height="15" fill="#000"/>
<rect x="215" y="171" width="4" height="1" fill="#fff"/>
<rect x="215" y="175" width="4" height="1" fill="#fff"/>
<rect x="216" y="177" width="2" height="2" fill="#fff"/>
<rect x="231" y="166" width="29" height="15" rx="3" ry="3" fill="#000"/>
<rect x="233" y="168" width="25" height="11" rx="2" ry="2" fill="#fff"/>
<text transform="translate(233.5,177.0) scale(0.9,1)" font-size="11" fill="#000" text-anchor="start" textLength="24.44" lengthAdjust="spacing">JP 4</text>
<polygon points="233,170.0 229,171.0 223,172.0 220,172.0 220,175.0 223,175.0 229,176.0 233,177.0" fill="#000"/>
<polygon points="233,172.3 224,173.2 224,173.8 233,174.7" fill="#fff"/>
<rect x="214" y="186" width="26" height="15" rx="3" ry="3" fill="#000"/>
<rect x="216" y="188" width="22" height="11" rx="2" ry="2" fill="#fff"/>
<text transform="translate(217,197.0) scale(0.9,1)" font-size="11" fill="#000" text-anchor="start" textLength="22.78" lengthAdjust="spacing">JP5</text>
<polygon points="206,181 209,181 217,188 214,189" fill="#000"/>
<rect x="72" y="274" width="48" height="3" fill="#000"/>
<rect x="69" y="277" width="52" height="2" fill="#000"/>
<rect x="67" y="278" width="4" height="34" fill="#000"/>
<rect x="119" y="276" width="6" height="36" fill="#000"/>
<rect x="74" y="274" width="1" height="3" fill="#fff"/>
<rect x="86" y="274" width="1" height="3" fill="#fff"/>
<rect x="91" y="274" width="1" height="3" fill="#fff"/>
<rect x="101" y="274" width="1" height="3" fill="#fff"/>
<rect x="108" y="274" width="1" height="3" fill="#fff"/>
<rect x="113" y="274" width="1" height="3" fill="#fff"/>
<rect x="67" y="282" width="2" height="1" fill="#fff"/>
<rect x="67" y="285" width="2" height="1" fill="#fff"/>
<rect x="67" y="288" width="2" height="1" fill="#fff"/>
<rect x="67" y="293" width="2" height="1" fill="#fff"/>
<rect x="67" y="296" width="2" height="1" fill="#fff"/>
<rect x="67" y="300" width="2" height="1" fill="#fff"/>
<rect x="67" y="304" width="2" height="1" fill="#fff"/>
<rect x="67" y="307" width="2" height="1" fill="#fff"/>
<rect x="122" y="282" width="2" height="1" fill="#fff"/>
<rect x="122" y="285" width="2" height="1" fill="#fff"/>
<rect x="122" y="290" width="2" height="1" fill="#fff"/>
<rect x="122" y="293" width="2" height="1" fill="#fff"/>
<rect x="122" y="298" width="2" height="1" fill="#fff"/>
<rect x="122" y="301" width="2" height="1" fill="#fff"/>
<rect x="122" y="305" width="2" height="1" fill="#fff"/>
<rect x="122" y="308" width="2" height="1" fill="#fff"/>
<rect x="71" y="279" width="48" height="31" fill="#fff"/>
<rect x="67" y="327" width="4" height="34" fill="#000"/>
<rect x="119" y="327" width="6" height="35" fill="#000"/>
<rect x="69" y="360" width="52" height="3" fill="#000"/>
<rect x="70" y="363" width="49" height="3" fill="#000"/>
<rect x="79" y="363" width="1" height="3" fill="#fff"/>
<rect x="84" y="363" width="1" height="3" fill="#fff"/>
<rect x="89" y="363" width="1" height="3" fill="#fff"/>
<rect x="94" y="363" width="1" height="3" fill="#fff"/>
<rect x="101" y="363" width="1" height="3" fill="#fff"/>
<rect x="106" y="363" width="1" height="3" fill="#fff"/>
<rect x="111" y="363" width="1" height="3" fill="#fff"/>
<rect x="117" y="363" width="1" height="3" fill="#fff"/>
<rect x="67" y="333" width="2" height="1" fill="#fff"/>
<rect x="67" y="337" width="2" height="1" fill="#fff"/>
<rect x="67" y="341" width="2" height="1" fill="#fff"/>
<rect x="67" y="345" width="2" height="1" fill="#fff"/>
<rect x="67" y="349" width="2" height="1" fill="#fff"/>
<rect x="67" y="353" width="2" height="1" fill="#fff"/>
<rect x="67" y="357" width="2" height="1" fill="#fff"/>
<rect x="122" y="333" width="2" height="1" fill="#fff"/>
<rect x="122" y="337" width="2" height="1" fill="#fff"/>
<rect x="122" y="342" width="2" height="1" fill="#fff"/>
<rect x="122" y="344" width="2" height="1" fill="#fff"/>
<rect x="122" y="350" width="2" height="1" fill="#fff"/>
<rect x="122" y="352" width="2" height="1" fill="#fff"/>
<rect x="122" y="358" width="2" height="1" fill="#fff"/>
<rect x="71" y="330" width="48" height="31" fill="#fff"/>
<rect x="69" y="310" width="52" height="20" fill="#000"/>
<rect x="73" y="314" width="45" height="12" fill="#fff"/>
<text transform="translate(75.5,323.5) scale(0.9,1)" font-size="11" fill="#000" text-anchor="start" textLength="43.33" lengthAdjust="spacing">BANK 0</text>
<path d="M119.5,271.5 Q124.5,272.5 124.5,277" fill="none" stroke="#000" stroke-width="1"/>
<path d="M124.5,361 L124.5,364 Q124,367 118,369" fill="none" stroke="#000" stroke-width="1"/>
<rect x="121" y="312" width="3" height="16" fill="#fff"/>
<rect x="124" y="312" width="1" height="4" fill="#000"/>
<rect x="124" y="323" width="1" height="5" fill="#000"/>
<polygon points="121,312 122,312 125,316 128,319.5 125,323 122,328 121,328" fill="#000"/>
<polygon points="122,314 123,314 126,319.5 123,325 122,325" fill="#fff"/>
<rect x="130" y="312" width="40" height="16" rx="4" ry="4" fill="#000"/>
<rect x="132" y="314" width="36" height="12" rx="3" ry="3" fill="#fff"/>
<text transform="translate(132,322.8) scale(0.9,1)" font-size="11" fill="#000" text-anchor="start" textLength="38.89" lengthAdjust="spacing">CACHE</text>
<rect x="56" y="372" width="7" height="15" fill="#000"/>
<rect x="57" y="373" width="1" height="13" fill="#fff"/>
<rect x="61" y="373" width="1" height="13" fill="#fff"/>
<rect x="57" y="375" width="5" height="1" fill="#fff"/>
<rect x="57" y="381" width="5" height="1" fill="#fff"/>
<rect x="58" y="383" width="2" height="2" fill="#fff"/>
<rect x="64" y="372" width="6" height="12" fill="#000"/>
<rect x="65" y="377" width="4" height="1" fill="#fff"/>
<rect x="65" y="382" width="4" height="1" fill="#fff"/>
<rect x="81" y="370" width="28" height="14" rx="3" ry="3" fill="#000"/>
<rect x="83" y="372" width="24" height="10" rx="2" ry="2" fill="#fff"/>
<text transform="translate(85,380.5) scale(0.9,1)" font-size="11" fill="#000" text-anchor="start" textLength="22.22" lengthAdjust="spacing">JP1</text>
<polygon points="83,373.5 79,374.5 73,375.5 70,375.5 70,378.5 73,378.5 79,379.5 83,380.5" fill="#000"/>
<polygon points="83,375.8 74,376.7 74,377.3 83,378.2" fill="#fff"/>
<rect x="64" y="392" width="28" height="14" rx="3" ry="3" fill="#000"/>
<rect x="66" y="394" width="24" height="10" rx="2" ry="2" fill="#fff"/>
<text transform="translate(67,402.5) scale(0.9,1)" font-size="11" fill="#000" text-anchor="start" textLength="23.33" lengthAdjust="spacing">JP2</text>
<polygon points="57,387 60,387 67,393 64,394" fill="#000"/>
<rect x="556" y="7" width="34" height="14" rx="3" ry="3" fill="#000"/>
<rect x="558" y="9" width="30" height="10" rx="2" ry="2" fill="#fff"/>
<text transform="translate(559,17.5) scale(0.9,1)" font-size="11" fill="#000" text-anchor="start" textLength="30.00" lengthAdjust="spacing">JP15</text>
<polygon points="557,20 560,21 552,28 549,27" fill="#000"/>
<rect x="547" y="27" width="6" height="13" fill="#000"/>
<rect x="548" y="28" width="4" height="1" fill="#fff"/>
<rect x="548" y="33" width="4" height="1" fill="#fff"/>
<rect x="548" y="38" width="4" height="1" fill="#fff"/>
<rect x="555" y="27" width="6" height="13" fill="#000"/>
<rect x="556" y="28" width="4" height="1" fill="#fff"/>
<rect x="556" y="33" width="4" height="1" fill="#fff"/>
<rect x="556" y="38" width="4" height="1" fill="#fff"/>
<rect x="573" y="26" width="32" height="14" rx="3" ry="3" fill="#000"/>
<rect x="575" y="28" width="28" height="10" rx="2" ry="2" fill="#fff"/>
<text transform="translate(576,36.5) scale(0.9,1)" font-size="11" fill="#000" text-anchor="start" textLength="27.78" lengthAdjust="spacing">JP16</text>
<polygon points="575,29.5 571,30.5 565,31.5 561,31.5 561,34.5 565,34.5 571,35.5 575,36.5" fill="#000"/>
<polygon points="575,31.8 566,32.7 566,33.3 575,34.2" fill="#fff"/>
<rect x="399" y="120" width="28" height="15" rx="3" ry="3" fill="#000"/>
<rect x="401" y="122" width="24" height="11" rx="2" ry="2" fill="#fff"/>
<text transform="translate(402,131.0) scale(0.9,1)" font-size="11" fill="#000" text-anchor="start" textLength="20.56" lengthAdjust="spacing">J11</text>
<polygon points="409.0,133 410.0,137 411.0,142 411.0,147 414.0,147 414.0,142 415.0,137 416.0,133" fill="#000"/>
<polygon points="411.3,133 412.2,141 412.8,141 413.7,133" fill="#fff"/>
<rect x="401" y="147" width="25" height="6" fill="#000"/>
<rect x="406" y="148" width="1" height="4" fill="#fff"/>
<rect x="410" y="148" width="1" height="4" fill="#fff"/>
<rect x="415" y="148" width="1" height="4" fill="#fff"/>
<rect x="424" y="148" width="1" height="4" fill="#fff"/>
<rect x="421" y="149" width="2" height="2" fill="#fff"/>
<rect x="454" y="120" width="28" height="14" rx="3" ry="3" fill="#000"/>
<rect x="456" y="122" width="24" height="10" rx="2" ry="2" fill="#fff"/>
<text transform="translate(457,130.5) scale(0.9,1)" font-size="11" fill="#000" text-anchor="start" textLength="23.89" lengthAdjust="spacing">J15</text>
<polygon points="463.5,132 464.5,136 465.5,141 465.5,147 468.5,147 468.5,141 469.5,136 470.5,132" fill="#000"/>
<polygon points="465.8,132 466.7,140 467.3,140 468.2,132" fill="#fff"/>
<rect x="453" y="147" width="29" height="6" fill="#000"/>
<rect x="454" y="151" width="9" height="1" fill="#fff"/>
<rect x="458" y="148" width="1" height="4" fill="#fff"/>
<rect x="462" y="148" width="1" height="4" fill="#fff"/>
<rect x="467" y="148" width="1" height="4" fill="#fff"/>
<rect x="472" y="148" width="1" height="4" fill="#fff"/>
<rect x="476" y="148" width="1" height="4" fill="#fff"/>
<rect x="478" y="149" width="2" height="2" fill="#fff"/>
<rect x="504" y="120" width="26" height="14" rx="3" ry="3" fill="#000"/>
<rect x="506" y="122" width="22" height="10" rx="2" ry="2" fill="#fff"/>
<text transform="translate(507,130.5) scale(0.9,1)" font-size="11" fill="#000" text-anchor="start" textLength="20.00" lengthAdjust="spacing">J14</text>
<polygon points="513.0,132 514.0,136 515.0,141 515.0,146 518.0,146 518.0,141 519.0,136 520.0,132" fill="#000"/>
<polygon points="515.3,132 516.2,140 516.8,140 517.7,132" fill="#fff"/>
<rect x="504" y="146" width="25" height="10" fill="#000"/>
<rect x="505" y="151" width="23" height="1" fill="#fff"/>
<rect x="505" y="147" width="1" height="8" fill="#fff"/>
<rect x="509" y="147" width="1" height="8" fill="#fff"/>
<rect x="514" y="147" width="1" height="8" fill="#fff"/>
<rect x="519" y="147" width="1" height="8" fill="#fff"/>
<rect x="523" y="147" width="1" height="8" fill="#fff"/>
<rect x="525" y="148" width="2" height="2" fill="#fff"/>
<rect x="504" y="159" width="25" height="11" fill="#000"/>
<rect x="505" y="161" width="20" height="1" fill="#fff"/>
<rect x="505" y="164" width="23" height="1" fill="#fff"/>
<rect x="505" y="161" width="1" height="8" fill="#fff"/>
<rect x="509" y="161" width="1" height="8" fill="#fff"/>
<rect x="514" y="161" width="1" height="8" fill="#fff"/>
<rect x="519" y="161" width="1" height="8" fill="#fff"/>
<rect x="523" y="161" width="1" height="8" fill="#fff"/>
<rect x="525" y="162" width="2" height="1" fill="#fff"/>
<polygon points="514.0,185 515.0,181 516.0,176 516.0,170 519.0,170 519.0,176 520.0,181 521.0,185" fill="#000"/>
<polygon points="516.3,185 517.2,177 517.8,177 518.7,185" fill="#fff"/>
<rect x="507" y="183" width="20" height="14" rx="3" ry="3" fill="#000"/>
<rect x="509" y="185" width="16" height="10" rx="2" ry="2" fill="#fff"/>
<text transform="translate(511,193.5) scale(0.9,1)" font-size="11" fill="#000" text-anchor="start" textLength="13.33" lengthAdjust="spacing">J7</text>
<rect x="397" y="158" width="20" height="14" rx="3" ry="3" fill="#000"/>
<rect x="399" y="160" width="16" height="10" rx="2" ry="2" fill="#fff"/>
<text transform="translate(400,168.5) scale(0.9,1)" font-size="11" fill="#000" text-anchor="start" textLength="14.44" lengthAdjust="spacing">J8</text>
<polygon points="415,161.5 419,162.5 425,163.5 428,163.5 428,166.5 425,166.5 419,167.5 415,168.5" fill="#000"/>
<polygon points="415,163.8 424,164.7 424,165.3 415,166.2" fill="#fff"/>
<rect x="428" y="160" width="63" height="10" fill="#000"/>
<rect x="429" y="161" width="1" height="7" fill="#fff"/>
<rect x="434" y="161" width="1" height="7" fill="#fff"/>
<rect x="438" y="161" width="1" height="7" fill="#fff"/>
<rect x="443" y="161" width="1" height="7" fill="#fff"/>
<rect x="448" y="161" width="1" height="7" fill="#fff"/>
<rect x="452" y="161" width="1" height="7" fill="#fff"/>
<rect x="457" y="161" width="1" height="7" fill="#fff"/>
<rect x="466" y="161" width="1" height="7" fill="#fff"/>
<rect x="471" y="161" width="1" height="7" fill="#fff"/>
<rect x="476" y="161" width="1" height="7" fill="#fff"/>
<rect x="480" y="161" width="1" height="7" fill="#fff"/>
<rect x="485" y="161" width="1" height="7" fill="#fff"/>
<rect x="487" y="162" width="2" height="2" fill="#fff"/>
<rect x="470" y="263" width="27" height="14" fill="#000"/>
<rect x="472" y="264" width="23" height="11" fill="#fff"/>
<text transform="translate(473,274) scale(0.9,1)" font-size="11" fill="#000" text-anchor="start" textLength="23.33" lengthAdjust="spacing">CN2</text>
<rect x="498" y="263" width="1" height="3" fill="#fff"/>
<polygon points="479.0,275 480.0,279 481.0,284 481.0,289 484.0,289 484.0,284 485.0,279 486.0,275" fill="#000"/>
<polygon points="481.3,275 482.2,283 482.8,283 483.7,275" fill="#fff"/>
<rect x="430" y="289" width="96" height="11" fill="#000"/>
<rect x="431" y="294" width="90" height="1" fill="#fff"/>
<rect x="432" y="290" width="1" height="9" fill="#fff"/>
<rect x="436" y="290" width="1" height="9" fill="#fff"/>
<rect x="441" y="290" width="1" height="9" fill="#fff"/>
<rect x="446" y="290" width="1" height="9" fill="#fff"/>
<rect x="450" y="290" width="1" height="9" fill="#fff"/>
<rect x="455" y="290" width="1" height="9" fill="#fff"/>
<rect x="459" y="290" width="1" height="9" fill="#fff"/>
<rect x="464" y="290" width="1" height="9" fill="#fff"/>
<rect x="469" y="290" width="1" height="9" fill="#fff"/>
<rect x="473" y="290" width="1" height="9" fill="#fff"/>
<rect x="478" y="290" width="1" height="9" fill="#fff"/>
<rect x="483" y="290" width="1" height="9" fill="#fff"/>
<rect x="487" y="290" width="1" height="9" fill="#fff"/>
<rect x="492" y="290" width="1" height="9" fill="#fff"/>
<rect x="497" y="290" width="1" height="9" fill="#fff"/>
<rect x="501" y="290" width="1" height="9" fill="#fff"/>
<rect x="506" y="290" width="1" height="9" fill="#fff"/>
<rect x="510" y="290" width="1" height="9" fill="#fff"/>
<rect x="515" y="290" width="1" height="9" fill="#fff"/>
<rect x="520" y="290" width="1" height="9" fill="#fff"/>
<rect x="524" y="290" width="1" height="9" fill="#fff"/>
<rect x="521" y="290" width="2" height="3" fill="#fff"/>
<rect x="430" y="303" width="96" height="10" fill="#000"/>
<rect x="432" y="304" width="1" height="7" fill="#fff"/>
<rect x="436" y="304" width="1" height="7" fill="#fff"/>
<rect x="441" y="304" width="1" height="7" fill="#fff"/>
<rect x="446" y="304" width="1" height="7" fill="#fff"/>
<rect x="450" y="304" width="1" height="7" fill="#fff"/>
<rect x="455" y="304" width="1" height="7" fill="#fff"/>
<rect x="459" y="304" width="1" height="7" fill="#fff"/>
<rect x="464" y="304" width="1" height="7" fill="#fff"/>
<rect x="469" y="304" width="1" height="7" fill="#fff"/>
<rect x="473" y="304" width="1" height="7" fill="#fff"/>
<rect x="478" y="304" width="1" height="7" fill="#fff"/>
<rect x="483" y="304" width="1" height="7" fill="#fff"/>
<rect x="487" y="304" width="1" height="7" fill="#fff"/>
<rect x="492" y="304" width="1" height="7" fill="#fff"/>
<rect x="497" y="304" width="1" height="7" fill="#fff"/>
<rect x="501" y="304" width="1" height="7" fill="#fff"/>
<rect x="506" y="304" width="1" height="7" fill="#fff"/>
<rect x="510" y="304" width="1" height="7" fill="#fff"/>
<rect x="515" y="304" width="1" height="7" fill="#fff"/>
<rect x="520" y="304" width="1" height="7" fill="#fff"/>
<rect x="524" y="304" width="1" height="7" fill="#fff"/>
<rect x="521" y="304" width="2" height="3" fill="#fff"/>
<rect x="537" y="301" width="29" height="15" rx="3" ry="3" fill="#000"/>
<rect x="539" y="303" width="25" height="11" rx="2" ry="2" fill="#fff"/>
<text transform="translate(540,312.0) scale(0.9,1)" font-size="11" fill="#000" text-anchor="start" textLength="25.56" lengthAdjust="spacing">CN1</text>
<polygon points="539,304.0 535,305.0 529,306.0 526,306.0 526,309.0 529,309.0 535,310.0 539,311.0" fill="#000"/>
<polygon points="539,306.3 530,307.2 530,307.8 539,308.7" fill="#fff"/>
<rect x="430" y="316" width="82" height="10" fill="#000"/>
<rect x="431" y="320" width="79" height="1" fill="#fff"/>
<rect x="432" y="317" width="1" height="8" fill="#fff"/>
<rect x="436" y="317" width="1" height="8" fill="#fff"/>
<rect x="441" y="317" width="1" height="8" fill="#fff"/>
<rect x="446" y="317" width="1" height="8" fill="#fff"/>
<rect x="450" y="317" width="1" height="8" fill="#fff"/>
<rect x="459" y="317" width="1" height="8" fill="#fff"/>
<rect x="464" y="317" width="1" height="8" fill="#fff"/>
<rect x="473" y="317" width="1" height="8" fill="#fff"/>
<rect x="478" y="317" width="1" height="8" fill="#fff"/>
<rect x="483" y="317" width="1" height="8" fill="#fff"/>
<rect x="487" y="317" width="1" height="8" fill="#fff"/>
<rect x="492" y="317" width="1" height="8" fill="#fff"/>
<rect x="501" y="317" width="1" height="8" fill="#fff"/>
<rect x="506" y="317" width="1" height="8" fill="#fff"/>
<rect x="508" y="318" width="2" height="1" fill="#fff"/>
<rect x="461" y="338" width="21" height="14" rx="3" ry="3" fill="#000"/>
<rect x="463" y="340" width="17" height="10" rx="2" ry="2" fill="#fff"/>
<text transform="translate(465,348.5) scale(0.9,1)" font-size="11" fill="#000" text-anchor="start" textLength="12.22" lengthAdjust="spacing">J1</text>
<polygon points="468.0,340 469.0,336 470.0,331 470.0,326 473.0,326 473.0,331 474.0,336 475.0,340" fill="#000"/>
<polygon points="470.3,340 471.2,332 471.8,332 472.7,340" fill="#fff"/>
<rect x="353" y="300" width="20" height="15" rx="3" ry="3" fill="#000"/>
<rect x="355" y="302" width="16" height="11" rx="2" ry="2" fill="#fff"/>
<text transform="translate(356.5,311.0) scale(0.9,1)" font-size="11" fill="#000" text-anchor="start" textLength="14.44" lengthAdjust="spacing">J3</text>
<polygon points="371,304.0 375,305.0 381,306.0 385,306.0 385,309.0 381,309.0 375,310.0 371,311.0" fill="#000"/>
<polygon points="371,306.3 380,307.2 380,307.8 371,308.7" fill="#fff"/>
<rect x="385" y="302" width="42" height="11" fill="#000"/>
<rect x="386" y="307" width="36" height="1" fill="#fff"/>
<rect x="386" y="303" width="1" height="9" fill="#fff"/>
<rect x="391" y="303" width="1" height="9" fill="#fff"/>
<rect x="396" y="303" width="1" height="9" fill="#fff"/>
<rect x="401" y="303" width="1" height="9" fill="#fff"/>
<rect x="411" y="303" width="1" height="9" fill="#fff"/>
<rect x="415" y="303" width="1" height="9" fill="#fff"/>
<rect x="420" y="303" width="1" height="9" fill="#fff"/>
<rect x="425" y="303" width="1" height="9" fill="#fff"/>
<rect x="406" y="307" width="1" height="5" fill="#fff"/>
<rect x="422" y="304" width="2" height="2" fill="#fff"/>
<rect x="332" y="315" width="21" height="14" rx="3" ry="3" fill="#000"/>
<rect x="334" y="317" width="17" height="10" rx="2" ry="2" fill="#fff"/>
<text transform="translate(335.5,325.5) scale(0.9,1)" font-size="11" fill="#000" text-anchor="start" textLength="14.44" lengthAdjust="spacing">J2</text>
<polygon points="351,318.0 355,319.0 361,320.0 364,320.0 364,323.0 361,323.0 355,324.0 351,325.0" fill="#000"/>
<polygon points="351,320.3 360,321.2 360,321.8 351,322.7" fill="#fff"/>
<rect x="364" y="316" width="63" height="10" fill="#000"/>
<rect x="365" y="320" width="57" height="1" fill="#fff"/>
<rect x="366" y="317" width="1" height="8" fill="#fff"/>
<rect x="371" y="317" width="1" height="8" fill="#fff"/>
<rect x="378" y="317" width="1" height="8" fill="#fff"/>
<rect x="383" y="317" width="1" height="8" fill="#fff"/>
<rect x="388" y="317" width="1" height="8" fill="#fff"/>
<rect x="393" y="317" width="1" height="8" fill="#fff"/>
<rect x="402" y="317" width="1" height="8" fill="#fff"/>
<rect x="407" y="317" width="1" height="8" fill="#fff"/>
<rect x="411" y="317" width="1" height="8" fill="#fff"/>
<rect x="416" y="317" width="1" height="8" fill="#fff"/>
<rect x="421" y="317" width="1" height="8" fill="#fff"/>
<rect x="425" y="317" width="1" height="8" fill="#fff"/>
<rect x="422" y="318" width="2" height="2" fill="#fff"/>
<rect x="293" y="352" width="222" height="13" fill="#000"/>
<rect x="294" y="353" width="220" height="11" fill="#fff"/>
<rect x="299" y="353" width="2" height="11" fill="#000"/>
<rect x="294" y="353" width="5" height="11" fill="#fff"/>
<rect x="294" y="355" width="5" height="1" fill="#000"/>
<rect x="294" y="360" width="5" height="1" fill="#000"/>
<rect x="303" y="356" width="1" height="7" fill="#000"/>
<rect x="303" y="356" width="7" height="1" fill="#000"/>
<rect x="309" y="356" width="1" height="4" fill="#000"/>
<rect x="305" y="359" width="5" height="1" fill="#000"/>
<rect x="305" y="359" width="1" height="4" fill="#000"/>
<rect x="302" y="362" width="5" height="1" fill="#000"/>
<rect x="308" y="360" width="4" height="4" fill="#000"/>
<rect x="311" y="354" width="185" height="9" fill="#000"/>
<rect x="498" y="355" width="1" height="9" fill="#000"/>
<rect x="498" y="355" width="9" height="1" fill="#000"/>
<rect x="503" y="356" width="2" height="3" fill="#000"/>
<rect x="499" y="359" width="6" height="1" fill="#000"/>
<rect x="503" y="360" width="4" height="3" fill="#000"/>
<rect x="498" y="363" width="9" height="1" fill="#000"/>
<rect x="507" y="353" width="2" height="11" fill="#000"/>
<rect x="509" y="355" width="5" height="1" fill="#000"/>
<rect x="509" y="360" width="5" height="1" fill="#000"/>
<rect x="318" y="356" width="1" height="3" fill="#fff"/>
<rect x="320" y="356" width="1" height="3" fill="#fff"/>
<rect x="322" y="356" width="1" height="3" fill="#fff"/>
<rect x="324" y="356" width="1" height="3" fill="#fff"/>
<rect x="333" y="356" width="1" height="3" fill="#fff"/>
<rect x="335" y="356" width="1" height="3" fill="#fff"/>
<rect x="337" y="356" width="1" height="3" fill="#fff"/>
<rect x="339" y="356" width="1" height="3" fill="#fff"/>
<rect x="341" y="356" width="1" height="3" fill="#fff"/>
<rect x="350" y="356" width="1" height="3" fill="#fff"/>
<rect x="352" y="356" width="1" height="3" fill="#fff"/>
<rect x="354" y="356" width="1" height="3" fill="#fff"/>
<rect x="363" y="356" width="1" height="3" fill="#fff"/>
<rect x="365" y="356" width="1" height="3" fill="#fff"/>
<rect x="367" y="356" width="1" height="3" fill="#fff"/>
<rect x="369" y="356" width="1" height="3" fill="#fff"/>
<rect x="371" y="356" width="1" height="3" fill="#fff"/>
<rect x="378" y="356" width="1" height="3" fill="#fff"/>
<rect x="380" y="356" width="1" height="3" fill="#fff"/>
<rect x="382" y="356" width="1" height="3" fill="#fff"/>
<rect x="384" y="356" width="1" height="3" fill="#fff"/>
<rect x="394" y="356" width="1" height="3" fill="#fff"/>
<rect x="396" y="356" width="1" height="3" fill="#fff"/>
<rect x="415" y="356" width="1" height="3" fill="#fff"/>
<rect x="417" y="356" width="1" height="3" fill="#fff"/>
<rect x="419" y="356" width="1" height="3" fill="#fff"/>
<rect x="421" y="356" width="1" height="3" fill="#fff"/>
<rect x="423" y="356" width="1" height="3" fill="#fff"/>
<rect x="431" y="356" width="1" height="3" fill="#fff"/>
<rect x="433" y="356" width="1" height="3" fill="#fff"/>
<rect x="435" y="356" width="1" height="3" fill="#fff"/>
<rect x="437" y="356" width="1" height="3" fill="#fff"/>
<rect x="439" y="356" width="1" height="3" fill="#fff"/>
<rect x="448" y="356" width="1" height="3" fill="#fff"/>
<rect x="450" y="356" width="1" height="3" fill="#fff"/>
<rect x="452" y="356" width="1" height="3" fill="#fff"/>
<rect x="454" y="356" width="1" height="3" fill="#fff"/>
<rect x="463" y="356" width="1" height="3" fill="#fff"/>
<rect x="465" y="356" width="1" height="3" fill="#fff"/>
<rect x="467" y="356" width="1" height="3" fill="#fff"/>
<rect x="469" y="356" width="1" height="3" fill="#fff"/>
<rect x="478" y="356" width="1" height="3" fill="#fff"/>
<rect x="480" y="356" width="1" height="3" fill="#fff"/>
<rect x="482" y="356" width="1" height="3" fill="#fff"/>
<rect x="484" y="356" width="1" height="3" fill="#fff"/>
<rect x="486" y="356" width="1" height="3" fill="#fff"/>
<rect x="491" y="356" width="1" height="3" fill="#fff"/>
<rect x="493" y="356" width="1" height="3" fill="#fff"/>
<rect x="400" y="352" width="6" height="4" fill="#fff"/>
<rect x="293" y="366" width="222" height="13" fill="#000"/>
<rect x="294" y="367" width="220" height="11" fill="#fff"/>
<rect x="299" y="367" width="2" height="11" fill="#000"/>
<rect x="294" y="367" width="5" height="11" fill="#fff"/>
<rect x="294" y="369" width="5" height="1" fill="#000"/>
<rect x="294" y="374" width="5" height="1" fill="#000"/>
<rect x="303" y="370" width="1" height="7" fill="#000"/>
<rect x="303" y="370" width="7" height="1" fill="#000"/>
<rect x="309" y="370" width="1" height="4" fill="#000"/>
<rect x="305" y="373" width="5" height="1" fill="#000"/>
<rect x="305" y="373" width="1" height="4" fill="#000"/>
<rect x="302" y="376" width="5" height="1" fill="#000"/>
<rect x="308" y="374" width="4" height="4" fill="#000"/>
<rect x="311" y="368" width="185" height="9" fill="#000"/>
<rect x="498" y="369" width="1" height="9" fill="#000"/>
<rect x="498" y="369" width="9" height="1" fill="#000"/>
<rect x="503" y="370" width="2" height="3" fill="#000"/>
<rect x="499" y="373" width="6" height="1" fill="#000"/>
<rect x="503" y="374" width="4" height="3" fill="#000"/>
<rect x="498" y="377" width="9" height="1" fill="#000"/>
<rect x="507" y="367" width="2" height="11" fill="#000"/>
<rect x="509" y="369" width="5" height="1" fill="#000"/>
<rect x="509" y="374" width="5" height="1" fill="#000"/>
<rect x="318" y="369" width="1" height="3" fill="#fff"/>
<rect x="320" y="369" width="1" height="3" fill="#fff"/>
<rect x="322" y="369" width="1" height="3" fill="#fff"/>
<rect x="324" y="369" width="1" height="3" fill="#fff"/>
<rect x="333" y="369" width="1" height="3" fill="#fff"/>
<rect x="335" y="369" width="1" height="3" fill="#fff"/>
<rect x="337" y="369" width="1" height="3" fill="#fff"/>
<rect x="339" y="369" width="1" height="3" fill="#fff"/>
<rect x="341" y="369" width="1" height="3" fill="#fff"/>
<rect x="350" y="369" width="1" height="3" fill="#fff"/>
<rect x="352" y="369" width="1" height="3" fill="#fff"/>
<rect x="354" y="369" width="1" height="3" fill="#fff"/>
<rect x="363" y="369" width="1" height="3" fill="#fff"/>
<rect x="365" y="369" width="1" height="3" fill="#fff"/>
<rect x="367" y="369" width="1" height="3" fill="#fff"/>
<rect x="369" y="369" width="1" height="3" fill="#fff"/>
<rect x="371" y="369" width="1" height="3" fill="#fff"/>
<rect x="378" y="369" width="1" height="3" fill="#fff"/>
<rect x="380" y="369" width="1" height="3" fill="#fff"/>
<rect x="382" y="369" width="1" height="3" fill="#fff"/>
<rect x="384" y="369" width="1" height="3" fill="#fff"/>
<rect x="394" y="369" width="1" height="3" fill="#fff"/>
<rect x="396" y="369" width="1" height="3" fill="#fff"/>
<rect x="415" y="369" width="1" height="3" fill="#fff"/>
<rect x="417" y="369" width="1" height="3" fill="#fff"/>
<rect x="419" y="369" width="1" height="3" fill="#fff"/>
<rect x="421" y="369" width="1" height="3" fill="#fff"/>
<rect x="423" y="369" width="1" height="3" fill="#fff"/>
<rect x="431" y="369" width="1" height="3" fill="#fff"/>
<rect x="433" y="369" width="1" height="3" fill="#fff"/>
<rect x="435" y="369" width="1" height="3" fill="#fff"/>
<rect x="437" y="369" width="1" height="3" fill="#fff"/>
<rect x="439" y="369" width="1" height="3" fill="#fff"/>
<rect x="448" y="369" width="1" height="3" fill="#fff"/>
<rect x="450" y="369" width="1" height="3" fill="#fff"/>
<rect x="452" y="369" width="1" height="3" fill="#fff"/>
<rect x="454" y="369" width="1" height="3" fill="#fff"/>
<rect x="463" y="369" width="1" height="3" fill="#fff"/>
<rect x="465" y="369" width="1" height="3" fill="#fff"/>
<rect x="467" y="369" width="1" height="3" fill="#fff"/>
<rect x="469" y="369" width="1" height="3" fill="#fff"/>
<rect x="478" y="369" width="1" height="3" fill="#fff"/>
<rect x="480" y="369" width="1" height="3" fill="#fff"/>
<rect x="482" y="369" width="1" height="3" fill="#fff"/>
<rect x="484" y="369" width="1" height="3" fill="#fff"/>
<rect x="486" y="369" width="1" height="3" fill="#fff"/>
<rect x="491" y="369" width="1" height="3" fill="#fff"/>
<rect x="493" y="369" width="1" height="3" fill="#fff"/>
<rect x="400" y="375" width="6" height="4" fill="#fff"/>
<rect x="293" y="379" width="222" height="13" fill="#000"/>
<rect x="294" y="380" width="220" height="11" fill="#fff"/>
<rect x="299" y="380" width="2" height="11" fill="#000"/>
<rect x="294" y="380" width="5" height="11" fill="#fff"/>
<rect x="294" y="382" width="5" height="1" fill="#000"/>
<rect x="294" y="387" width="5" height="1" fill="#000"/>
<rect x="303" y="383" width="1" height="7" fill="#000"/>
<rect x="303" y="383" width="7" height="1" fill="#000"/>
<rect x="309" y="383" width="1" height="4" fill="#000"/>
<rect x="305" y="386" width="5" height="1" fill="#000"/>
<rect x="305" y="386" width="1" height="4" fill="#000"/>
<rect x="302" y="389" width="5" height="1" fill="#000"/>
<rect x="308" y="387" width="4" height="4" fill="#000"/>
<rect x="311" y="381" width="185" height="9" fill="#000"/>
<rect x="498" y="382" width="1" height="9" fill="#000"/>
<rect x="498" y="382" width="9" height="1" fill="#000"/>
<rect x="503" y="383" width="2" height="3" fill="#000"/>
<rect x="499" y="386" width="6" height="1" fill="#000"/>
<rect x="503" y="387" width="4" height="3" fill="#000"/>
<rect x="498" y="390" width="9" height="1" fill="#000"/>
<rect x="507" y="380" width="2" height="11" fill="#000"/>
<rect x="509" y="382" width="5" height="1" fill="#000"/>
<rect x="509" y="387" width="5" height="1" fill="#000"/>
<rect x="318" y="383" width="1" height="3" fill="#fff"/>
<rect x="320" y="383" width="1" height="3" fill="#fff"/>
<rect x="322" y="383" width="1" height="3" fill="#fff"/>
<rect x="324" y="383" width="1" height="3" fill="#fff"/>
<rect x="333" y="383" width="1" height="3" fill="#fff"/>
<rect x="335" y="383" width="1" height="3" fill="#fff"/>
<rect x="337" y="383" width="1" height="3" fill="#fff"/>
<rect x="339" y="383" width="1" height="3" fill="#fff"/>
<rect x="341" y="383" width="1" height="3" fill="#fff"/>
<rect x="350" y="383" width="1" height="3" fill="#fff"/>
<rect x="352" y="383" width="1" height="3" fill="#fff"/>
<rect x="354" y="383" width="1" height="3" fill="#fff"/>
<rect x="363" y="383" width="1" height="3" fill="#fff"/>
<rect x="365" y="383" width="1" height="3" fill="#fff"/>
<rect x="367" y="383" width="1" height="3" fill="#fff"/>
<rect x="369" y="383" width="1" height="3" fill="#fff"/>
<rect x="371" y="383" width="1" height="3" fill="#fff"/>
<rect x="378" y="383" width="1" height="3" fill="#fff"/>
<rect x="380" y="383" width="1" height="3" fill="#fff"/>
<rect x="382" y="383" width="1" height="3" fill="#fff"/>
<rect x="384" y="383" width="1" height="3" fill="#fff"/>
<rect x="394" y="383" width="1" height="3" fill="#fff"/>
<rect x="396" y="383" width="1" height="3" fill="#fff"/>
<rect x="415" y="383" width="1" height="3" fill="#fff"/>
<rect x="417" y="383" width="1" height="3" fill="#fff"/>
<rect x="419" y="383" width="1" height="3" fill="#fff"/>
<rect x="421" y="383" width="1" height="3" fill="#fff"/>
<rect x="423" y="383" width="1" height="3" fill="#fff"/>
<rect x="431" y="383" width="1" height="3" fill="#fff"/>
<rect x="433" y="383" width="1" height="3" fill="#fff"/>
<rect x="435" y="383" width="1" height="3" fill="#fff"/>
<rect x="437" y="383" width="1" height="3" fill="#fff"/>
<rect x="439" y="383" width="1" height="3" fill="#fff"/>
<rect x="448" y="383" width="1" height="3" fill="#fff"/>
<rect x="450" y="383" width="1" height="3" fill="#fff"/>
<rect x="452" y="383" width="1" height="3" fill="#fff"/>
<rect x="454" y="383" width="1" height="3" fill="#fff"/>
<rect x="463" y="383" width="1" height="3" fill="#fff"/>
<rect x="465" y="383" width="1" height="3" fill="#fff"/>
<rect x="467" y="383" width="1" height="3" fill="#fff"/>
<rect x="469" y="383" width="1" height="3" fill="#fff"/>
<rect x="478" y="383" width="1" height="3" fill="#fff"/>
<rect x="480" y="383" width="1" height="3" fill="#fff"/>
<rect x="482" y="383" width="1" height="3" fill="#fff"/>
<rect x="484" y="383" width="1" height="3" fill="#fff"/>
<rect x="486" y="383" width="1" height="3" fill="#fff"/>
<rect x="491" y="383" width="1" height="3" fill="#fff"/>
<rect x="493" y="383" width="1" height="3" fill="#fff"/>
<rect x="400" y="379" width="6" height="4" fill="#fff"/>
<rect x="293" y="393" width="222" height="13" fill="#000"/>
<rect x="294" y="394" width="220" height="11" fill="#fff"/>
<rect x="299" y="394" width="2" height="11" fill="#000"/>
<rect x="294" y="394" width="5" height="11" fill="#fff"/>
<rect x="294" y="396" width="5" height="1" fill="#000"/>
<rect x="294" y="401" width="5" height="1" fill="#000"/>
<rect x="303" y="397" width="1" height="7" fill="#000"/>
<rect x="303" y="397" width="7" height="1" fill="#000"/>
<rect x="309" y="397" width="1" height="4" fill="#000"/>
<rect x="305" y="400" width="5" height="1" fill="#000"/>
<rect x="305" y="400" width="1" height="4" fill="#000"/>
<rect x="302" y="403" width="5" height="1" fill="#000"/>
<rect x="308" y="401" width="4" height="4" fill="#000"/>
<rect x="311" y="395" width="185" height="9" fill="#000"/>
<rect x="498" y="396" width="1" height="9" fill="#000"/>
<rect x="498" y="396" width="9" height="1" fill="#000"/>
<rect x="503" y="397" width="2" height="3" fill="#000"/>
<rect x="499" y="400" width="6" height="1" fill="#000"/>
<rect x="503" y="401" width="4" height="3" fill="#000"/>
<rect x="498" y="404" width="9" height="1" fill="#000"/>
<rect x="507" y="394" width="2" height="11" fill="#000"/>
<rect x="509" y="396" width="5" height="1" fill="#000"/>
<rect x="509" y="401" width="5" height="1" fill="#000"/>
<rect x="318" y="396" width="1" height="3" fill="#fff"/>
<rect x="320" y="396" width="1" height="3" fill="#fff"/>
<rect x="322" y="396" width="1" height="3" fill="#fff"/>
<rect x="324" y="396" width="1" height="3" fill="#fff"/>
<rect x="333" y="396" width="1" height="3" fill="#fff"/>
<rect x="335" y="396" width="1" height="3" fill="#fff"/>
<rect x="337" y="396" width="1" height="3" fill="#fff"/>
<rect x="339" y="396" width="1" height="3" fill="#fff"/>
<rect x="341" y="396" width="1" height="3" fill="#fff"/>
<rect x="350" y="396" width="1" height="3" fill="#fff"/>
<rect x="352" y="396" width="1" height="3" fill="#fff"/>
<rect x="354" y="396" width="1" height="3" fill="#fff"/>
<rect x="363" y="396" width="1" height="3" fill="#fff"/>
<rect x="365" y="396" width="1" height="3" fill="#fff"/>
<rect x="367" y="396" width="1" height="3" fill="#fff"/>
<rect x="369" y="396" width="1" height="3" fill="#fff"/>
<rect x="371" y="396" width="1" height="3" fill="#fff"/>
<rect x="378" y="396" width="1" height="3" fill="#fff"/>
<rect x="380" y="396" width="1" height="3" fill="#fff"/>
<rect x="382" y="396" width="1" height="3" fill="#fff"/>
<rect x="384" y="396" width="1" height="3" fill="#fff"/>
<rect x="394" y="396" width="1" height="3" fill="#fff"/>
<rect x="396" y="396" width="1" height="3" fill="#fff"/>
<rect x="415" y="396" width="1" height="3" fill="#fff"/>
<rect x="417" y="396" width="1" height="3" fill="#fff"/>
<rect x="419" y="396" width="1" height="3" fill="#fff"/>
<rect x="421" y="396" width="1" height="3" fill="#fff"/>
<rect x="423" y="396" width="1" height="3" fill="#fff"/>
<rect x="431" y="396" width="1" height="3" fill="#fff"/>
<rect x="433" y="396" width="1" height="3" fill="#fff"/>
<rect x="435" y="396" width="1" height="3" fill="#fff"/>
<rect x="437" y="396" width="1" height="3" fill="#fff"/>
<rect x="439" y="396" width="1" height="3" fill="#fff"/>
<rect x="448" y="396" width="1" height="3" fill="#fff"/>
<rect x="450" y="396" width="1" height="3" fill="#fff"/>
<rect x="452" y="396" width="1" height="3" fill="#fff"/>
<rect x="454" y="396" width="1" height="3" fill="#fff"/>
<rect x="463" y="396" width="1" height="3" fill="#fff"/>
<rect x="465" y="396" width="1" height="3" fill="#fff"/>
<rect x="467" y="396" width="1" height="3" fill="#fff"/>
<rect x="469" y="396" width="1" height="3" fill="#fff"/>
<rect x="478" y="396" width="1" height="3" fill="#fff"/>
<rect x="480" y="396" width="1" height="3" fill="#fff"/>
<rect x="482" y="396" width="1" height="3" fill="#fff"/>
<rect x="484" y="396" width="1" height="3" fill="#fff"/>
<rect x="486" y="396" width="1" height="3" fill="#fff"/>
<rect x="491" y="396" width="1" height="3" fill="#fff"/>
<rect x="493" y="396" width="1" height="3" fill="#fff"/>
<rect x="400" y="402" width="6" height="4" fill="#fff"/>
<rect x="311" y="365" width="185" height="1" fill="#fff"/>
<rect x="311" y="392" width="185" height="1" fill="#fff"/>
<rect x="380" y="358" width="48" height="15" fill="#000"/>
<rect x="382" y="360" width="44" height="11" fill="#fff"/>
<text transform="translate(384,370) scale(0.9,1)" font-size="11" fill="#000" text-anchor="start" textLength="44.44" lengthAdjust="spacing">BANK 0</text>
<rect x="381" y="385" width="46" height="14" fill="#000"/>
<rect x="383" y="387" width="42" height="10" fill="#fff"/>
<text transform="translate(385,396) scale(0.9,1)" font-size="11" fill="#000" text-anchor="start" textLength="43.33" lengthAdjust="spacing">BANK 1</text>
<rect x="524" y="315" width="20" height="90" fill="#000"/>
<rect x="525" y="316" width="18" height="88" fill="#fff"/>
<rect x="529" y="315" width="2" height="2" fill="#000"/>
<rect x="527" y="320" width="5" height="5" fill="#000"/>
<rect x="528" y="321" width="3" height="3" fill="#fff"/>
<rect x="527" y="327" width="5" height="5" fill="#000"/>
<rect x="528" y="328" width="3" height="3" fill="#fff"/>
<rect x="527" y="335" width="5" height="5" fill="#000"/>
<rect x="528" y="336" width="3" height="3" fill="#fff"/>
<rect x="527" y="342" width="5" height="5" fill="#000"/>
<rect x="528" y="343" width="3" height="3" fill="#fff"/>
<rect x="527" y="350" width="5" height="5" fill="#000"/>
<rect x="528" y="351" width="3" height="3" fill="#fff"/>
<rect x="527" y="357" width="5" height="5" fill="#000"/>
<rect x="528" y="358" width="3" height="3" fill="#fff"/>
<rect x="527" y="365" width="5" height="5" fill="#000"/>
<rect x="528" y="366" width="3" height="3" fill="#fff"/>
<rect x="527" y="372" width="5" height="5" fill="#000"/>
<rect x="528" y="373" width="3" height="3" fill="#fff"/>
<rect x="527" y="380" width="5" height="5" fill="#000"/>
<rect x="528" y="381" width="3" height="3" fill="#fff"/>
<rect x="527" y="387" width="5" height="5" fill="#000"/>
<rect x="528" y="388" width="3" height="3" fill="#fff"/>
<rect x="527" y="395" width="5" height="5" fill="#000"/>
<rect x="528" y="396" width="3" height="3" fill="#fff"/>
<rect x="534" y="317" width="2" height="6" fill="#000"/>
<rect x="534" y="324" width="2" height="6" fill="#000"/>
<rect x="534" y="332" width="2" height="12" fill="#000"/>
<rect x="534" y="346" width="2" height="5" fill="#000"/>
<rect x="534" y="353" width="2" height="5" fill="#000"/>
<rect x="534" y="360" width="2" height="10" fill="#000"/>
<rect x="534" y="372" width="2" height="5" fill="#000"/>
<rect x="534" y="379" width="2" height="10" fill="#000"/>
<rect x="534" y="391" width="2" height="5" fill="#000"/>
<rect x="534" y="398" width="2" height="6" fill="#000"/>
<rect x="538" y="316" width="1" height="88" fill="#000"/>
<circle cx="540.2" cy="318.50" r="1.4" fill="#000"/>
<circle cx="540.2" cy="322.25" r="1.4" fill="#000"/>
<circle cx="540.2" cy="326.00" r="1.4" fill="#000"/>
<circle cx="540.2" cy="329.75" r="1.4" fill="#000"/>
<circle cx="540.2" cy="333.50" r="1.4" fill="#000"/>
<circle cx="540.2" cy="337.25" r="1.4" fill="#000"/>
<circle cx="540.2" cy="341.00" r="1.4" fill="#000"/>
<circle cx="540.2" cy="344.75" r="1.4" fill="#000"/>
<circle cx="540.2" cy="348.50" r="1.4" fill="#000"/>
<circle cx="540.2" cy="352.25" r="1.4" fill="#000"/>
<circle cx="540.2" cy="356.00" r="1.4" fill="#000"/>
<circle cx="540.2" cy="359.75" r="1.4" fill="#000"/>
<circle cx="540.2" cy="363.50" r="1.4" fill="#000"/>
<circle cx="540.2" cy="367.25" r="1.4" fill="#000"/>
<circle cx="540.2" cy="371.00" r="1.4" fill="#000"/>
<circle cx="540.2" cy="374.75" r="1.4" fill="#000"/>
<circle cx="540.2" cy="378.50" r="1.4" fill="#000"/>
<circle cx="540.2" cy="382.25" r="1.4" fill="#000"/>
<circle cx="540.2" cy="386.00" r="1.4" fill="#000"/>
<circle cx="540.2" cy="389.75" r="1.4" fill="#000"/>
<circle cx="540.2" cy="393.50" r="1.4" fill="#000"/>
<circle cx="540.2" cy="397.25" r="1.4" fill="#000"/>
<circle cx="540.2" cy="401.00" r="1.4" fill="#000"/>
<rect x="543" y="315" width="1" height="90" fill="#000"/>
<rect x="556" y="336" width="25" height="30" fill="#000"/>
<rect x="575" y="331" width="6" height="40" fill="#000"/>
<rect x="578" y="330" width="3" height="42" fill="#000"/>
<rect x="554" y="341" width="2" height="20" fill="#000"/>
<rect x="551" y="342" width="4" height="8" fill="#000"/>
<rect x="552" y="343" width="2" height="6" fill="#fff"/>
<rect x="551" y="352" width="4" height="8" fill="#000"/>
<rect x="552" y="353" width="2" height="6" fill="#fff"/>
</svg>
</body></html>
